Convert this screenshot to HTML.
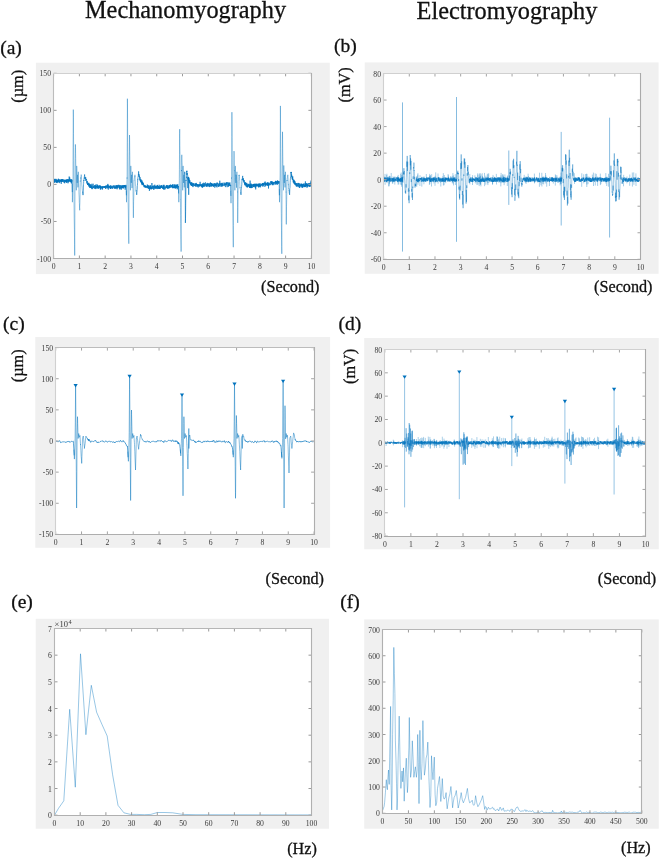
<!DOCTYPE html>
<html><head><meta charset="utf-8"><style>
html,body{margin:0;padding:0;background:#fff;}
svg{display:block;filter:blur(0.30px);}
</style></head><body>
<svg width="660" height="859" viewBox="0 0 660 859">
<rect width="660" height="859" fill="#fff"/>
<rect x="35.9" y="62.7" width="293.9" height="211.4" fill="#f0f0f0"/>
<rect x="53.6" y="73.3" width="257.8" height="185.2" fill="#fff"/>
<rect x="364.7" y="62.4" width="293.9" height="211.4" fill="#f0f0f0"/>
<rect x="383.6" y="73.5" width="256.9" height="185.8" fill="#fff"/>
<rect x="35.3" y="337.0" width="294.8" height="210.8" fill="#f0f0f0"/>
<rect x="55.7" y="347.6" width="258.4" height="186.8" fill="#fff"/>
<rect x="364.2" y="338.0" width="294.6" height="211.3" fill="#f0f0f0"/>
<rect x="384.8" y="349.5" width="260.7" height="186.6" fill="#fff"/>
<rect x="35.7" y="618.8" width="293.3" height="209.9" fill="#f0f0f0"/>
<rect x="54.5" y="628.5" width="257.0" height="186.7" fill="#fff"/>
<rect x="364.2" y="619.4" width="294.6" height="209.3" fill="#f0f0f0"/>
<rect x="382.5" y="629.5" width="259.3" height="183.8" fill="#fff"/>
<polyline points="53.9,180.5 54.0,178.9 54.1,179.6 54.2,182.3 54.3,180.9 54.4,178.9 54.6,182.8 54.7,179.2 54.8,180.0 54.9,180.4 55.0,181.6 55.1,181.9 55.2,181.8 55.3,181.3 55.4,180.7 55.5,180.5 55.7,178.9 55.8,179.9 55.9,181.9 56.0,178.9 56.1,182.7 56.2,181.9 56.3,179.9 56.4,182.3 56.5,182.7 56.6,180.8 56.8,181.0 56.9,179.5 57.0,180.6 57.1,183.1 57.2,180.3 57.3,181.7 57.4,182.2 57.5,182.0 57.6,180.1 57.7,182.0 57.9,181.1 58.0,182.3 58.1,179.5 58.2,182.4 58.3,182.0 58.4,178.7 58.5,180.9 58.6,179.7 58.7,179.7 58.8,179.4 59.0,182.1 59.1,180.9 59.2,179.8 59.3,179.3 59.4,181.1 59.5,180.5 59.6,183.1 59.7,181.8 59.8,181.3 59.9,182.0 60.1,179.8 60.2,181.8 60.3,179.7 60.4,180.7 60.5,181.1 60.6,179.9 60.7,179.7 60.8,180.9 60.9,180.7 61.0,182.1 61.2,183.4 61.3,183.9 61.4,179.4 61.5,182.0 61.6,179.8 61.7,181.3 61.8,179.2 61.9,180.2 62.0,182.0 62.1,179.0 62.3,179.7 62.4,179.6 62.5,181.3 62.6,181.5 62.7,181.5 62.8,179.0 62.9,181.2 63.0,182.0 63.1,179.6 63.2,180.3 63.4,180.7 63.5,181.1 63.6,181.4 63.7,181.5 63.8,182.5 63.9,179.7 64.0,181.1 64.1,180.9 64.2,181.2 64.3,180.1 64.5,182.6 64.6,181.6 64.7,183.3 64.8,181.9 64.9,179.7 65.0,180.1 65.1,181.0 65.2,181.6 65.3,180.0 65.4,181.8 65.6,181.0 65.7,180.8 65.8,181.2 65.9,181.0 66.0,179.8 66.1,179.6 66.2,182.1 66.3,179.7 66.4,182.8 66.5,179.8 66.7,179.8 66.8,182.5 66.9,181.8 67.0,179.7 67.1,180.4 67.2,180.6 67.3,180.2 67.4,180.7 67.5,179.1 67.6,182.1 67.8,182.0 67.9,181.3 68.0,183.3 68.1,181.5 68.2,179.7 68.3,180.1 68.4,181.7 68.5,182.2 68.6,179.4 68.7,181.2 68.9,179.5 69.0,181.0 69.1,181.6 69.2,176.5 69.3,179.8 69.4,179.9 69.5,181.0 69.6,179.5 69.7,177.4 69.8,179.0 70.0,181.9 70.1,180.8 70.2,181.0 70.3,179.3 70.4,181.9 70.5,179.8 70.6,180.3 70.7,180.6 70.8,181.5 70.9,179.6 71.1,182.6 71.2,181.4 71.3,182.2 71.4,183.5 71.5,181.8 71.6,179.2 71.7,179.8 71.8,181.8 71.9,179.9 72.0,181.7 72.2,183.8 72.3,192.2" fill="none" stroke="#0072BD" stroke-width="0.65" stroke-linejoin="round" />
<polyline points="72.2,183.8 72.3,192.2 72.4,201.1 72.4,202.2 72.5,197.5 72.6,192.7 72.7,188.8 72.8,183.3 72.9,179.1 73.0,178.5 73.0,161.2 73.1,139.9 73.3,117.6 73.3,109.6 73.4,117.9 73.5,133.6 73.6,147.8 73.7,160.4 73.8,176.8 73.9,187.7 74.0,199.2 74.0,201.9 74.1,210.0 74.2,218.1 74.4,229.2 74.5,237.8 74.6,244.4 74.7,254.9 74.7,255.5 74.8,234.5 74.9,211.0 75.0,187.3 75.1,171.1 75.1,167.5 75.2,158.6 75.3,149.1 75.4,144.4 75.5,147.6 75.6,153.3 75.7,158.5 75.8,165.1 75.9,169.8 75.9,171.1 76.0,177.0 76.1,181.3 76.2,185.8 76.3,190.3 76.3,187.0 76.4,181.0 76.6,175.1 76.7,168.2 76.7,165.9 76.8,168.7 76.9,172.2 77.0,176.3 77.1,180.9 77.2,182.9 77.2,182.9 77.3,179.1 77.4,175.9 77.5,174.8 77.5,177.3 77.7,180.1 77.8,184.4 77.9,187.1 77.9,187.4 78.0,181.5 78.1,179.6 78.2,175.6 78.3,171.8 78.3,172.9 78.4,177.0 78.5,181.1 78.6,183.5 78.8,187.3 78.9,189.8 78.9,191.8 79.0,194.8 79.1,195.9 79.2,197.9 79.3,202.7 79.4,203.4 79.5,207.5 79.6,208.6 79.7,210.3 79.7,206.9 79.9,202.6 80.0,197.2 80.1,192.5 80.2,186.6 80.3,180.7 80.3,181.5 80.4,180.8 80.5,179.9 80.6,178.7 80.7,177.6 80.8,178.5 81.0,176.5 81.1,176.2 81.2,174.6 81.2,174.8 81.3,175.4 81.4,177.5 81.5,178.5 81.6,181.7 81.7,182.9 81.8,184.9 81.9,185.9 82.1,187.5 82.1,188.1 82.2,188.8 82.3,190.3 82.4,190.3 82.5,191.4 82.6,191.5" fill="none" stroke="#0072BD" stroke-width="0.55" stroke-linejoin="round" stroke-opacity="0.72"/>
<polyline points="82.5,191.4 82.6,191.5 82.7,192.9 82.8,192.7 82.9,194.2 83.0,194.8 83.0,195.1 83.2,191.9 83.3,190.8 83.4,187.1 83.5,184.7 83.6,183.7 83.7,181.3 83.8,180.0 83.8,180.8 83.9,180.7 84.0,178.8 84.1,177.9 84.3,178.1 84.4,176.3 84.5,175.4 84.5,175.5 84.6,174.5 84.7,176.1 84.8,176.5 84.9,178.8 85.0,177.4 85.1,178.1 85.2,178.8 85.4,178.9 85.5,178.2 85.6,177.7 85.7,177.1 85.8,181.0 85.9,180.6 86.0,179.4 86.1,180.0 86.2,179.4 86.3,178.9 86.5,180.1 86.6,179.9 86.7,180.7 86.8,182.6 86.9,181.3 87.0,183.6 87.1,182.2 87.2,182.2 87.3,181.2 87.4,183.9 87.6,184.9 87.7,183.4 87.8,185.0 87.9,183.0 88.0,183.8 88.1,184.3 88.2,183.6 88.3,183.8 88.4,185.4 88.5,182.9 88.7,182.7 88.8,185.1 88.9,186.6 89.0,184.0 89.1,183.3 89.2,186.3 89.3,185.2 89.4,184.3 89.5,184.2 89.6,187.7 89.8,187.3 89.9,184.2 90.0,187.7 90.1,187.2 90.2,186.6 90.3,186.5 90.4,185.2 90.5,187.4 90.6,184.4 90.7,188.0 90.9,186.2 91.0,188.0 91.1,186.5 91.2,187.4 91.3,187.0 91.4,187.8 91.5,185.5 91.6,187.3 91.7,189.1 91.8,183.8 92.0,185.2 92.1,185.0 92.2,187.5 92.3,186.5 92.4,187.8 92.5,187.8 92.6,189.1 92.7,187.6 92.8,187.7 92.9,187.5 93.1,183.7 93.2,187.0 93.3,188.1 93.4,186.7 93.5,187.3 93.6,186.7 93.7,187.7 93.8,186.9 93.9,186.2 94.0,186.8 94.2,187.2 94.3,186.6 94.4,185.5 94.5,187.4 94.6,188.8 94.7,188.7 94.8,185.0 94.9,185.1 95.0,187.9 95.1,186.2 95.3,188.1 95.4,187.7 95.5,187.6 95.6,185.4 95.7,189.1 95.8,187.6 95.9,185.5 96.0,188.5 96.1,184.2 96.2,187.8 96.4,186.1 96.5,186.8 96.6,186.3 96.7,186.8 96.8,186.8 96.9,186.0 97.0,187.0 97.1,187.0 97.2,188.6 97.3,188.3 97.5,184.6 97.6,188.0 97.7,185.2 97.8,187.0 97.9,187.6 98.0,186.3 98.1,187.5 98.2,186.7 98.3,188.8 98.4,186.0 98.6,186.8 98.7,186.9 98.8,188.4 98.9,185.8 99.0,186.4 99.1,186.9 99.2,185.1 99.3,187.9 99.4,187.4 99.5,186.7 99.7,186.3 99.8,187.6 99.9,187.0 100.0,187.4 100.1,187.3 100.2,185.3 100.3,189.3 100.4,186.1 100.5,189.5 100.6,186.1 100.8,187.2 100.9,187.2 101.0,186.9 101.1,186.6 101.2,186.7 101.3,188.6 101.4,186.8 101.5,186.7 101.6,186.3 101.7,188.1 101.9,187.1 102.0,186.8 102.1,187.4 102.2,189.5 102.3,189.7 102.4,187.9 102.5,188.4 102.6,186.2 102.7,188.5 102.8,186.6 103.0,186.3 103.1,186.6 103.2,186.3 103.3,188.0 103.4,187.2 103.5,186.9 103.6,186.6 103.7,186.9 103.8,186.7 103.9,187.5 104.1,186.7 104.2,187.2 104.3,186.0 104.4,187.4 104.5,187.6 104.6,187.0 104.7,187.2 104.8,188.0 104.9,186.1 105.0,187.6 105.2,186.3 105.3,186.4 105.4,187.2 105.5,186.2 105.6,189.0 105.7,187.2 105.8,185.8 105.9,187.1 106.0,186.8 106.1,185.5 106.3,186.6 106.4,186.2 106.5,186.7 106.6,187.5 106.7,188.1 106.8,186.8 106.9,187.2 107.0,185.2 107.1,187.6 107.2,188.5 107.4,187.4 107.5,186.7 107.6,184.7 107.7,185.8 107.8,187.9 107.9,183.9 108.0,185.2 108.1,186.5 108.2,186.7 108.3,189.6 108.5,185.4 108.6,186.9 108.7,187.5 108.8,188.0 108.9,187.4 109.0,186.4 109.1,186.0 109.2,186.5 109.3,186.1 109.4,187.4 109.6,187.0 109.7,186.3 109.8,187.6 109.9,188.0 110.0,186.2 110.1,185.5 110.2,188.9 110.3,186.4 110.4,185.4 110.5,186.4 110.7,189.0 110.8,187.4 110.9,188.5 111.0,186.8 111.1,187.4 111.2,186.1 111.3,187.9 111.4,187.3 111.5,186.7 111.6,186.8 111.8,188.0 111.9,185.5 112.0,186.5 112.1,187.2 112.2,188.2 112.3,188.9 112.4,187.4 112.5,186.6 112.6,186.4 112.7,188.3 112.9,187.8 113.0,187.7 113.1,186.2 113.2,187.5 113.3,185.8 113.4,186.3 113.5,186.5 113.6,185.4 113.7,186.2 113.8,187.0 114.0,187.6 114.1,187.1 114.2,187.8 114.3,188.7 114.4,186.7 114.5,185.7 114.6,188.1 114.7,187.8 114.8,188.2 114.9,187.8 115.1,185.4 115.2,188.2 115.3,187.9 115.4,188.2 115.5,187.1 115.6,188.4 115.7,186.8 115.8,188.4 115.9,186.9 116.0,185.6 116.2,188.0 116.3,185.7 116.4,186.7 116.5,187.2 116.6,185.4 116.7,188.5 116.8,185.5 116.9,186.3 117.0,185.6 117.1,189.3 117.3,185.9 117.4,186.8 117.5,186.2 117.6,187.9 117.7,185.0 117.8,185.1 117.9,187.4 118.0,187.3 118.1,188.1 118.2,185.8 118.4,184.9 118.5,184.9 118.6,186.6 118.7,186.2 118.8,186.1 118.9,186.4 119.0,184.9 119.1,186.6 119.2,187.7 119.3,186.4 119.5,189.3 119.6,186.2 119.7,185.3 119.8,188.2 119.9,185.8 120.0,185.5 120.1,188.1 120.2,187.2 120.3,189.3 120.4,187.3 120.6,186.8 120.7,186.5 120.8,185.2 120.9,187.4 121.0,185.7 121.1,185.7 121.2,185.9 121.3,187.2 121.4,189.6 121.5,186.2 121.7,187.8 121.8,188.0 121.9,186.2 122.0,185.5 122.1,187.6 122.2,188.2 122.3,185.1 122.4,187.9 122.5,186.2 122.6,188.0 122.8,188.2 122.9,187.7 123.0,186.9 123.1,188.0 123.2,186.5 123.3,185.0 123.4,188.5 123.5,187.7 123.6,186.2 123.7,186.0 123.9,187.0 124.0,185.3 124.1,186.3 124.2,185.2 124.3,187.5 124.4,185.5 124.5,186.2 124.6,185.1 124.7,186.7 124.8,186.2 125.0,186.2 125.1,186.5 125.2,189.7 125.3,185.0 125.4,185.3 125.5,187.9 125.6,185.9 125.7,187.7 125.8,187.6 125.9,184.9 126.1,187.4 126.2,187.7 126.3,190.4 126.4,195.4" fill="none" stroke="#0072BD" stroke-width="0.65" stroke-linejoin="round" />
<polyline points="126.3,190.4 126.4,195.4 126.5,201.6 126.5,202.2 126.6,197.7 126.7,192.6 126.8,187.6 126.9,183.9 127.0,177.6 127.1,178.5 127.2,152.8 127.3,128.5 127.4,103.7 127.4,98.7 127.5,109.0 127.6,126.9 127.7,142.6 127.8,157.8 127.9,174.2 128.0,190.5 128.1,199.2 128.1,201.9 128.3,210.0 128.4,215.9 128.5,224.4 128.6,230.1 128.7,237.0 128.8,243.7 128.8,242.9 128.9,220.6 129.0,202.7 129.1,181.3 129.2,171.1 129.2,165.4 129.4,151.6 129.5,139.1 129.5,135.0 129.6,139.1 129.7,148.0 129.8,155.4 129.9,164.0 130.0,171.1 130.0,171.6 130.1,177.2 130.2,182.8 130.3,187.5 130.4,190.3 130.5,186.6 130.6,180.0 130.7,174.2 130.8,166.7 130.8,165.9 130.9,168.9 131.0,173.4 131.1,176.6 131.2,180.6 131.3,182.9 131.3,182.5 131.4,179.5 131.6,176.4 131.6,174.8 131.7,177.2 131.8,180.6 131.9,183.1 132.0,188.1 132.0,187.4 132.1,184.5 132.2,178.3 132.3,174.8 132.4,171.8 132.4,173.2 132.5,175.1 132.7,179.5 132.8,183.7 132.9,187.2 133.0,191.4 133.0,191.8 133.1,197.6 133.2,205.8 133.3,213.0 133.4,217.8 133.4,216.2 133.5,208.2 133.6,201.5 133.8,196.4 133.9,188.5 134.0,182.8 134.0,181.5 134.1,180.0 134.2,180.2 134.3,178.5 134.4,178.4 134.5,177.7 134.6,176.7 134.7,175.8 134.9,175.5 134.9,174.8 135.0,176.7 135.1,176.3 135.2,179.3 135.3,181.9 135.4,183.9 135.5,185.9 135.6,186.0 135.7,186.3 135.8,188.1 135.8,189.6 136.0,189.5 136.1,191.4 136.2,190.2 136.3,191.5 136.4,192.3 136.5,192.4" fill="none" stroke="#0072BD" stroke-width="0.55" stroke-linejoin="round" stroke-opacity="0.72"/>
<polyline points="136.4,192.3 136.5,192.4 136.6,193.0 136.7,194.8 136.7,193.7 136.8,193.3 136.9,192.3 137.1,190.6 137.2,189.6 137.3,185.7 137.4,185.6 137.5,183.9 137.6,182.4 137.7,179.6 137.8,180.0 137.8,180.0 137.9,177.8 138.0,177.4 138.2,176.6 138.3,176.8 138.4,173.8 138.5,173.9 138.5,173.3 138.6,171.4 138.7,172.5 138.8,175.4 138.9,174.1 139.0,176.3 139.1,176.9 139.3,176.5 139.4,176.5 139.5,175.6 139.6,178.4 139.7,178.5 139.8,178.9 139.9,180.3 140.0,177.1 140.1,178.9 140.2,181.2 140.4,181.3 140.5,181.8 140.6,179.8 140.7,180.9 140.8,179.3 140.9,182.0 141.0,179.9 141.1,179.8 141.2,183.0 141.3,181.6 141.5,182.7 141.6,183.5 141.7,181.9 141.8,182.1 141.9,180.3 142.0,185.1 142.1,181.4 142.2,184.0 142.3,182.3 142.4,183.5 142.6,182.1 142.7,185.1 142.8,184.1 142.9,182.7 143.0,183.4 143.1,184.7 143.2,182.8 143.3,184.9 143.4,185.0 143.5,183.6 143.7,185.3 143.8,186.0 143.9,186.4 144.0,185.1 144.1,186.5 144.2,187.2 144.3,184.9 144.4,185.5 144.5,185.2 144.6,185.0 144.8,187.3 144.9,186.1 145.0,186.9 145.1,187.2 145.2,185.8 145.3,187.1 145.4,186.7 145.5,185.5 145.6,187.7 145.7,187.9 145.9,185.9 146.0,186.1 146.1,186.8 146.2,185.9 146.3,187.3 146.4,187.4 146.5,186.5 146.6,187.3 146.7,187.4 146.8,187.0 147.0,186.9 147.1,188.1 147.2,185.9 147.3,184.5 147.4,184.7 147.5,187.6 147.6,187.7 147.7,188.1 147.8,185.3 147.9,187.6 148.1,186.2 148.2,185.2 148.3,185.2 148.4,188.9 148.5,187.6 148.6,187.2 148.7,186.0 148.8,187.5 148.9,187.1 149.0,188.9 149.2,188.5 149.3,186.4 149.4,190.9 149.5,188.5 149.6,187.9 149.7,188.7 149.8,189.4 149.9,185.4 150.0,187.0 150.1,188.5 150.3,185.6 150.4,189.2 150.5,188.3 150.6,185.6 150.7,186.1 150.8,186.5 150.9,188.7 151.0,187.2 151.1,188.7 151.2,188.0 151.4,189.1 151.5,189.3 151.6,186.8 151.7,189.1 151.8,188.1 151.9,183.0 152.0,187.1 152.1,187.5 152.2,188.4 152.3,186.1 152.5,186.5 152.6,186.8 152.7,186.4 152.8,189.0 152.9,187.9 153.0,185.8 153.1,185.6 153.2,186.2 153.3,187.0 153.4,187.8 153.6,188.5 153.7,185.8 153.8,190.0 153.9,187.8 154.0,187.4 154.1,186.5 154.2,185.7 154.3,187.1 154.4,188.2 154.5,188.7 154.7,187.4 154.8,184.7 154.9,187.9 155.0,185.7 155.1,187.0 155.2,187.5 155.3,187.0 155.4,188.9 155.5,186.6 155.6,188.1 155.8,186.4 155.9,187.5 156.0,186.0 156.1,186.2 156.2,187.8 156.3,187.9 156.4,186.4 156.5,187.1 156.6,188.4 156.7,188.7 156.9,185.7 157.0,186.3 157.1,189.1 157.2,185.2 157.3,187.6 157.4,187.4 157.5,185.0 157.6,184.9 157.7,188.4 157.8,188.9 158.0,187.7 158.1,186.2 158.2,186.7 158.3,187.0 158.4,186.7 158.5,187.9 158.6,186.0 158.7,188.7 158.8,186.7 158.9,188.8 159.1,187.4 159.2,184.8 159.3,186.4 159.4,188.9 159.5,186.8 159.6,186.6 159.7,188.0 159.8,187.7 159.9,189.0 160.0,186.5 160.2,187.8 160.3,187.4 160.4,188.4 160.5,186.3 160.6,188.2 160.7,185.5 160.8,185.4 160.9,186.4 161.0,187.3 161.1,185.9 161.3,187.2 161.4,185.2 161.5,187.6 161.6,186.9 161.7,187.8 161.8,186.3 161.9,185.3 162.0,187.9 162.1,186.4 162.2,186.5 162.4,187.6 162.5,186.9 162.6,188.5 162.7,187.3 162.8,186.7 162.9,189.0 163.0,186.8 163.1,185.4 163.2,185.6 163.3,184.9 163.5,185.1 163.6,189.4 163.7,185.6 163.8,189.4 163.9,185.8 164.0,184.8 164.1,186.2 164.2,186.5 164.3,188.1 164.4,187.6 164.6,187.9 164.7,188.7 164.8,189.7 164.9,185.7 165.0,185.6 165.1,188.3 165.2,187.9 165.3,188.1 165.4,188.5 165.5,188.0 165.7,186.8 165.8,187.3 165.9,186.8 166.0,187.1 166.1,186.9 166.2,187.5 166.3,187.1 166.4,186.9 166.5,185.3 166.6,187.8 166.8,185.5 166.9,187.6 167.0,185.3 167.1,188.3 167.2,186.6 167.3,185.4 167.4,185.6 167.5,188.2 167.6,188.0 167.7,187.0 167.9,188.9 168.0,187.8 168.1,185.4 168.2,188.4 168.3,188.2 168.4,188.2 168.5,188.1 168.6,186.5 168.7,187.1 168.8,186.6 169.0,188.1 169.1,185.5 169.2,185.0 169.3,186.4 169.4,188.2 169.5,185.5 169.6,186.6 169.7,186.9 169.8,184.9 169.9,187.5 170.1,186.6 170.2,187.9 170.3,185.3 170.4,186.0 170.5,185.7 170.6,184.5 170.7,184.7 170.8,186.3 170.9,186.7 171.0,186.8 171.2,185.3 171.3,187.2 171.4,185.6 171.5,185.5 171.6,186.3 171.7,185.6 171.8,186.7 171.9,186.6 172.0,187.5 172.1,184.9 172.3,187.6 172.4,185.1 172.5,185.9 172.6,185.1 172.7,184.7 172.8,188.3 172.9,184.1 173.0,185.9 173.1,188.0 173.2,186.6 173.4,188.1 173.5,186.7 173.6,187.3 173.7,187.3 173.8,186.9 173.9,186.0 174.0,184.8 174.1,184.8 174.2,186.6 174.3,186.6 174.5,188.0 174.6,187.0 174.7,184.6 174.8,187.8 174.9,184.6 175.0,188.5 175.1,187.0 175.2,186.0 175.3,186.6 175.4,185.8 175.6,188.4 175.7,188.5 175.8,184.7 175.9,187.1 176.0,187.6 176.1,186.5 176.2,187.9 176.3,186.3 176.4,185.1 176.5,185.1 176.7,187.5 176.8,186.1 176.9,184.5 177.0,186.6 177.1,185.2 177.2,189.3 177.3,184.8 177.4,185.9 177.5,185.1 177.6,185.6 177.8,184.3 177.9,188.4 178.0,185.9 178.1,187.4 178.2,187.3 178.3,186.0 178.4,187.0 178.5,188.2 178.6,193.5" fill="none" stroke="#0072BD" stroke-width="0.65" stroke-linejoin="round" />
<polyline points="178.5,188.2 178.6,193.5 178.7,199.5 178.8,202.2 178.9,198.8 179.0,195.3 179.1,190.0 179.2,185.2 179.3,180.6 179.3,178.5 179.4,169.6 179.5,154.7 179.6,138.2 179.7,129.2 179.7,133.7 179.8,145.2 180.0,155.2 180.1,165.4 180.2,177.6 180.3,188.6 180.4,199.4 180.4,199.2 180.5,207.3 180.6,215.8 180.7,223.7 180.8,233.3 180.9,239.3 181.1,248.2 181.1,251.6 181.2,238.1 181.3,214.4 181.4,192.9 181.5,170.0 181.5,171.1 181.6,165.9 181.7,158.0 181.8,154.8 181.8,155.7 181.9,160.7 182.0,162.4 182.2,166.7 182.3,170.8 182.3,171.1 182.4,175.1 182.5,181.5 182.6,185.1 182.7,190.3 182.7,189.9 182.8,183.2 182.9,175.3 183.0,169.5 183.1,165.9 183.1,168.0 183.3,172.0 183.4,175.1 183.5,178.1 183.6,183.0 183.6,182.9 183.7,180.9 183.8,176.6 183.9,174.8 183.9,175.3 184.0,178.9 184.1,180.9 184.2,186.6 184.3,187.4 184.4,184.9 184.5,182.0 184.6,176.7 184.7,171.8 184.7,171.8 184.8,174.4" fill="none" stroke="#0072BD" stroke-width="0.55" stroke-linejoin="round" stroke-opacity="0.72"/>
<polyline points="184.7,171.8 184.8,174.4 184.9,179.7 185.0,181.9 185.1,185.6 185.2,189.9 185.3,191.8 185.3,205.7 185.4,222.9 185.5,218.8 185.6,211.8 185.7,203.3 185.8,197.2 185.9,187.3 186.0,181.5 186.0,180.0 186.0,180.7 186.1,180.8 186.2,179.3 186.3,178.5 186.4,176.8 186.6,177.7 186.7,177.4 186.7,171.1 186.8,172.0 186.9,170.7 186.9,174.8 187.0,173.5 187.1,174.4 187.2,173.6 187.3,173.3 187.4,174.5 187.5,175.0 187.7,175.1 187.8,177.8 187.8,188.1 187.9,177.5 188.0,178.8 188.1,177.4 188.2,179.8 188.3,179.6 188.4,176.9 188.5,179.8 188.6,179.7 188.7,194.8 188.8,177.4 188.9,181.0 189.0,178.4 189.1,179.3 189.2,182.0 189.3,181.9 189.4,182.6 189.5,180.5 189.6,182.8 189.7,183.3 189.9,180.3 190.0,182.7 190.1,182.3 190.2,182.5 190.3,184.0 190.4,184.2 190.5,182.7 190.6,185.2 190.7,183.8 190.8,182.5 191.0,182.9 191.1,183.5 191.2,185.3 191.3,184.5 191.4,182.3 191.5,185.8 191.6,184.8 191.7,185.9 191.8,182.5 191.9,185.6 192.1,184.8 192.2,184.5 192.3,183.3 192.4,182.9 192.5,183.6 192.6,185.5 192.7,186.4 192.8,183.8 192.9,183.4 193.0,187.1 193.2,183.9 193.3,185.4 193.4,184.9 193.5,184.1 193.6,184.5 193.7,183.2 193.8,184.8 193.9,185.6 194.0,183.5 194.1,185.0 194.3,185.0 194.4,185.2 194.5,185.1 194.6,186.0 194.7,186.0 194.8,186.1 194.9,185.1 195.0,185.7 195.1,183.8 195.2,184.2 195.4,185.9 195.5,185.2 195.6,183.2 195.7,186.6 195.8,185.1 195.9,184.4 196.0,184.8 196.1,184.0 196.2,186.6 196.3,182.9 196.5,184.7 196.6,183.9 196.7,184.7 196.8,184.0 196.9,184.5 197.0,184.5 197.1,186.4 197.2,185.5 197.3,184.4 197.4,186.2 197.6,186.6 197.7,184.1 197.8,184.8 197.9,184.4 198.0,186.1 198.1,184.8 198.2,187.5 198.3,184.9 198.4,185.3 198.5,184.9 198.7,186.1 198.8,186.3 198.9,184.4 199.0,185.9 199.1,184.6 199.2,186.2 199.3,186.4 199.4,186.2 199.5,185.0 199.6,184.4 199.8,184.0 199.9,186.5 200.0,184.5 200.1,181.8 200.2,184.9 200.3,184.8 200.4,185.5 200.5,184.8 200.6,185.7 200.7,185.0 200.9,184.3 201.0,184.7 201.1,185.8 201.2,184.4 201.3,186.4 201.4,184.5 201.5,185.4 201.6,184.8 201.7,187.3 201.8,185.0 202.0,186.6 202.1,185.2 202.2,186.3 202.3,184.2 202.4,183.5 202.5,185.5 202.6,187.9 202.7,184.4 202.8,186.7 202.9,183.7 203.1,186.7 203.2,186.3 203.3,185.4 203.4,186.3 203.5,185.2 203.6,186.3 203.7,184.8 203.8,182.7 203.9,186.1 204.0,183.2 204.2,186.5 204.3,185.2 204.4,185.0 204.5,185.2 204.6,184.6 204.7,183.5 204.8,186.6 204.9,185.2 205.0,184.1 205.1,184.0 205.3,184.5 205.4,183.3 205.5,182.4 205.6,183.4 205.7,184.3 205.8,186.2 205.9,185.8 206.0,184.8 206.1,183.9 206.2,185.9 206.4,185.1 206.5,186.8 206.6,184.4 206.7,184.1 206.8,183.6 206.9,186.3 207.0,184.2 207.1,185.0 207.2,185.5 207.3,182.9 207.5,184.8 207.6,183.9 207.7,186.7 207.8,186.6 207.9,184.7 208.0,185.8 208.1,183.7 208.2,184.2 208.3,183.6 208.4,183.7 208.6,184.1 208.7,186.5 208.8,184.3 208.9,183.6 209.0,184.5 209.1,183.8 209.2,183.7 209.3,185.3 209.4,183.6 209.5,187.1 209.7,185.2 209.8,186.0 209.9,186.5 210.0,184.7 210.1,184.8 210.2,184.6 210.3,182.6 210.4,184.1 210.5,184.2 210.6,182.7 210.8,186.0 210.9,184.9 211.0,186.9 211.1,184.9 211.2,183.7 211.3,186.2 211.4,184.6 211.5,183.1 211.6,185.3 211.7,183.4 211.9,185.8 212.0,185.6 212.1,184.3 212.2,186.4 212.3,185.6 212.4,185.8 212.5,184.1 212.6,185.3 212.7,185.7 212.8,183.7 213.0,185.9 213.1,183.5 213.2,184.0 213.3,184.3 213.4,185.4 213.5,184.9 213.6,187.0 213.7,186.0 213.8,184.9 213.9,186.0 214.1,184.0 214.2,184.4 214.3,183.2 214.4,183.8 214.5,185.6 214.6,184.8 214.7,186.5 214.8,187.7 214.9,183.1 215.0,185.8 215.2,185.8 215.3,186.2 215.4,184.8 215.5,184.2 215.6,186.1 215.7,183.6 215.8,186.2 215.9,183.9 216.0,185.1 216.1,184.8 216.3,185.4 216.4,183.9 216.5,182.8 216.6,183.5 216.7,186.6 216.8,185.2 216.9,185.6 217.0,187.4 217.1,186.2 217.2,185.7 217.4,182.6 217.5,184.0 217.6,183.5 217.7,184.3 217.8,185.1 217.9,185.3 218.0,185.2 218.1,185.8 218.2,184.8 218.3,183.9 218.5,187.0 218.6,185.3 218.7,185.1 218.8,183.9 218.9,184.0 219.0,183.3 219.1,185.7 219.2,186.1 219.3,185.5 219.4,186.1 219.6,183.0 219.7,182.7 219.8,180.7 219.9,186.5 220.0,186.3 220.1,182.9 220.2,183.1 220.3,184.3 220.4,185.2 220.5,184.9 220.7,183.9 220.8,184.0 220.9,184.8 221.0,186.0 221.1,186.7 221.2,185.2 221.3,182.9 221.4,184.3 221.5,183.6 221.6,186.2 221.8,184.9 221.9,183.6 222.0,184.6 222.1,186.6 222.2,185.5 222.3,184.0 222.4,183.6 222.5,184.3 222.6,186.1 222.7,182.8 222.9,184.5 223.0,184.0 223.1,184.5 223.2,185.2 223.3,185.5 223.4,185.8 223.5,185.9 223.6,185.7 223.7,185.7 223.8,185.3 224.0,184.6 224.1,182.5 224.2,185.8 224.3,185.7 224.4,183.4 224.5,184.7 224.6,184.9 224.7,185.2 224.8,184.8 224.9,185.2 225.1,183.7 225.2,184.1 225.3,185.7 225.4,187.1 225.5,183.7 225.6,184.8 225.7,184.1 225.8,183.1 225.9,182.9 226.0,182.6 226.2,184.8 226.3,182.7 226.4,184.5 226.5,185.4 226.6,184.4 226.7,182.2 226.8,183.9 226.9,183.3 227.0,185.6 227.1,187.2 227.3,185.0 227.4,184.2 227.5,183.3 227.6,182.5 227.7,182.2 227.8,183.8 227.9,184.0 228.0,185.2 228.1,185.1 228.2,186.6 228.4,182.5 228.5,185.4 228.6,186.5 228.7,184.9 228.8,184.3 228.9,183.6 229.0,185.7 229.1,185.7 229.2,183.2 229.3,183.5 229.5,184.0 229.6,183.4 229.7,186.0 229.8,182.3 229.9,183.9 230.0,184.5 230.1,185.3 230.2,185.2 230.3,184.8 230.4,185.8 230.6,185.9 230.7,185.2 230.8,190.5 230.9,195.9" fill="none" stroke="#0072BD" stroke-width="0.65" stroke-linejoin="round" />
<polyline points="230.8,190.5 230.9,195.9 231.0,203.2 231.0,202.2 231.1,197.5 231.2,192.4 231.3,188.3 231.4,183.9 231.5,177.6 231.6,178.5 231.7,157.8 231.8,136.6 231.9,115.3 231.9,112.2 232.0,124.3 232.1,137.7 232.2,149.0 232.3,164.5 232.4,178.8 232.5,191.9 232.6,199.2 232.6,203.0 232.8,211.0 232.9,218.0 233.0,225.3 233.1,232.8 233.2,240.0 233.3,247.2 233.3,246.5 233.4,225.4 233.5,202.9 233.6,182.8 233.7,171.1 233.7,166.9 233.9,160.2 234.0,154.0 234.0,151.1 234.1,153.9 234.2,159.4 234.3,162.9 234.4,166.6 234.5,171.1 234.5,170.6 234.6,177.4 234.7,182.1 234.8,187.7 234.9,190.3 235.0,186.1 235.1,181.7 235.2,173.5 235.3,166.3 235.3,165.9 235.4,169.0 235.5,173.5 235.6,176.2 235.7,179.8 235.8,182.9 235.8,181.8 235.9,179.0 236.1,176.1 236.1,174.8 236.2,176.9 236.3,179.6 236.4,182.9 236.5,187.7 236.5,187.4 236.6,183.7 236.7,179.3 236.8,173.8 236.9,171.8 236.9,173.0 237.0,176.6 237.2,180.1 237.3,183.9 237.4,187.9 237.5,192.2 237.5,191.8 237.6,207.8 237.7,222.9 237.7,222.1 237.8,214.3 237.9,207.3 238.0,199.7 238.1,190.9 238.3,184.5 238.3,181.5 238.4,180.8 238.5,180.3 238.6,179.9 238.7,179.5 238.8,178.0 238.9,177.4 239.0,175.4 239.1,176.0 239.2,174.8 239.2,175.8 239.4,176.7 239.5,178.8 239.6,180.1 239.7,181.5 239.8,184.8 239.9,185.6 240.0,187.6 240.1,188.1 240.1,187.4 240.2,189.2 240.3,189.6 240.5,189.6 240.6,191.8 240.7,192.3 240.8,192.9" fill="none" stroke="#0072BD" stroke-width="0.55" stroke-linejoin="round" stroke-opacity="0.72"/>
<polyline points="240.7,192.3 240.8,192.9 240.9,194.2 241.0,194.8 241.0,193.8 241.1,192.4 241.2,190.7 241.3,189.7 241.4,188.3 241.6,186.7 241.7,185.1 241.8,184.3 241.9,181.3 242.0,179.4 242.0,180.0 242.1,179.5 242.2,179.4 242.3,178.5 242.4,177.9 242.5,177.4 242.7,175.9 242.7,177.0 242.8,179.9 242.9,178.8 243.0,179.1 243.1,179.4 243.2,180.5 243.3,178.2 243.4,181.5 243.5,181.3 243.6,180.3 243.8,181.3 243.9,182.6 244.0,182.4 244.1,181.6 244.2,180.9 244.3,180.1 244.4,180.6 244.5,184.4 244.6,182.7 244.7,183.3 244.9,184.6 245.0,182.1 245.1,185.4 245.2,184.7 245.3,183.1 245.4,183.6 245.5,185.0 245.6,182.3 245.7,184.6 245.8,184.0 246.0,185.9 246.1,183.5 246.2,186.7 246.3,185.0 246.4,183.3 246.5,183.5 246.6,183.8 246.7,182.9 246.8,186.5 246.9,187.1 247.1,185.4 247.2,187.5 247.3,183.7 247.4,186.5 247.5,185.8 247.6,186.4 247.7,187.2 247.8,185.6 247.9,186.9 248.0,184.4 248.2,185.3 248.3,186.3 248.4,184.2 248.5,184.6 248.6,186.3 248.7,185.6 248.8,183.8 248.9,184.5 249.0,186.0 249.1,184.7 249.3,184.8 249.4,186.5 249.5,188.0 249.6,184.4 249.7,185.7 249.8,186.7 249.9,185.3 250.0,187.7 250.1,180.6 250.2,187.0 250.4,187.9 250.5,188.1 250.6,186.8 250.7,183.9 250.8,187.9 250.9,185.8 251.0,183.5 251.1,187.7 251.2,186.7 251.3,184.9 251.5,188.1 251.6,184.3 251.7,184.7 251.8,187.1 251.9,184.6 252.0,185.6 252.1,185.2 252.2,186.1 252.3,187.1 252.4,187.5 252.6,187.0 252.7,187.6 252.8,184.2 252.9,184.8 253.0,185.8 253.1,184.6 253.2,185.7 253.3,187.0 253.4,186.3 253.5,183.9 253.7,187.0 253.8,185.5 253.9,184.0 254.0,186.6 254.1,184.1 254.2,186.8 254.3,185.4 254.4,184.7 254.5,185.0 254.6,183.9 254.8,185.5 254.9,183.7 255.0,186.5 255.1,185.3 255.2,186.9 255.3,188.0 255.4,185.2 255.5,185.0 255.6,184.1 255.7,189.4 255.9,183.8 256.0,185.8 256.1,186.3 256.2,183.8 256.3,184.9 256.4,184.4 256.5,186.4 256.6,185.8 256.7,184.4 256.8,186.0 257.0,183.7 257.1,185.3 257.2,185.6 257.3,184.4 257.4,185.4 257.5,184.8 257.6,184.8 257.7,186.3 257.8,185.0 257.9,184.6 258.1,185.5 258.2,186.8 258.3,184.2 258.4,183.5 258.5,186.7 258.6,184.0 258.7,184.7 258.8,187.6 258.9,184.9 259.0,186.2 259.2,184.7 259.3,184.0 259.4,185.1 259.5,186.9 259.6,183.7 259.7,184.7 259.8,184.2 259.9,186.6 260.0,183.1 260.1,184.8 260.3,185.7 260.4,184.8 260.5,185.5 260.6,187.3 260.7,186.0 260.8,185.3 260.9,185.9 261.0,184.4 261.1,184.9 261.2,184.6 261.4,185.2 261.5,184.8 261.6,184.1 261.7,185.6 261.8,184.3 261.9,184.4 262.0,184.3 262.1,183.3 262.2,184.6 262.3,185.2 262.5,183.7 262.6,186.5 262.7,183.0 262.8,184.7 262.9,185.0 263.0,184.1 263.1,183.7 263.2,184.9 263.3,182.9 263.4,186.3 263.6,184.3 263.7,184.2 263.8,183.2 263.9,183.6 264.0,184.2 264.1,184.7 264.2,184.0 264.3,184.4 264.4,183.7 264.5,182.8 264.7,183.5 264.8,182.4 264.9,186.9 265.0,184.1 265.1,181.5 265.2,183.8 265.3,184.6 265.4,184.2 265.5,183.1 265.6,185.9 265.8,184.7 265.9,184.4 266.0,182.7 266.1,185.0 266.2,184.0 266.3,185.3 266.4,184.3 266.5,184.1 266.6,183.6 266.7,183.0 266.9,182.9 267.0,184.5 267.1,183.3 267.2,184.0 267.3,185.8 267.4,183.2 267.5,183.4 267.6,184.9 267.7,182.1 267.8,185.0 268.0,186.0 268.1,182.5 268.2,184.4 268.3,183.9 268.4,183.5 268.5,188.5 268.6,183.4 268.7,183.5 268.8,185.6 268.9,184.3 269.1,183.2 269.2,182.7 269.3,182.8 269.4,183.6 269.5,184.3 269.6,183.5 269.7,185.2 269.8,184.2 269.9,184.8 270.0,184.8 270.2,184.4 270.3,185.1 270.4,182.8 270.5,183.1 270.6,182.9 270.7,181.1 270.8,182.3 270.9,183.3 271.0,182.5 271.1,183.5 271.3,182.1 271.4,184.3 271.5,183.3 271.6,181.0 271.7,182.6 271.8,183.9 271.9,182.3 272.0,183.9 272.1,181.7 272.2,185.1 272.4,184.5 272.5,184.6 272.6,184.9 272.7,181.6 272.8,185.2 272.9,183.7 273.0,183.3 273.1,182.6 273.2,182.5 273.3,184.0 273.5,183.8 273.6,182.0 273.7,184.2 273.8,185.1 273.9,184.0 274.0,183.8 274.1,183.4 274.2,182.3 274.3,182.4 274.4,182.8 274.6,182.3 274.7,182.1 274.8,183.4 274.9,184.1 275.0,183.6 275.1,181.8 275.2,182.4 275.3,181.5 275.4,184.6 275.5,181.1 275.7,182.7 275.8,180.8 275.9,182.5 276.0,183.1 276.1,181.5 276.2,182.2 276.3,181.5 276.4,184.1 276.5,182.3 276.6,182.8 276.8,184.4 276.9,184.0 277.0,181.8 277.1,182.7 277.2,181.2 277.3,183.8 277.4,184.7 277.5,180.4 277.6,183.1 277.7,182.3 277.9,183.7 278.0,183.5 278.1,182.8 278.2,181.1 278.3,183.4 278.4,180.9 278.5,181.2 278.6,182.5 278.7,183.5 278.8,183.6 279.0,183.2 279.1,182.7 279.2,181.2 279.3,188.8 279.4,195.3" fill="none" stroke="#0072BD" stroke-width="0.65" stroke-linejoin="round" />
<polyline points="279.3,188.8 279.4,195.3 279.5,202.2 279.5,201.3 279.6,196.9 279.7,192.4 279.8,188.2 279.9,183.2 280.0,178.5 280.1,175.9 280.2,152.6 280.3,131.2 280.4,107.6 280.4,105.9 280.5,118.9 280.6,133.2 280.7,148.4 280.8,162.9 280.9,177.3 281.0,193.3 281.1,199.2 281.2,203.9 281.3,213.7 281.4,222.4 281.5,230.2 281.6,239.2 281.7,246.4 281.8,253.8 281.8,249.0 281.9,227.1 282.0,204.3 282.1,181.6 282.2,171.1 282.3,163.4 282.4,148.7 282.5,134.2 282.5,131.8 282.6,139.2 282.7,148.0 282.8,156.5 282.9,164.2 283.0,171.1 283.0,172.8 283.1,176.8 283.2,183.3 283.4,187.5 283.4,190.3 283.5,186.8 283.6,179.8 283.7,172.3 283.8,165.5 283.8,165.9 283.9,169.7 284.0,172.0 284.1,177.1 284.2,180.7 284.3,182.9 284.3,181.9 284.5,177.5 284.6,175.0 284.6,174.8 284.7,177.0 284.8,181.8 284.9,184.0 285.0,187.4 285.0,187.3 285.1,182.4 285.2,177.8 285.3,174.6 285.4,171.8 285.4,173.3 285.6,176.5 285.7,180.7 285.8,184.7 285.9,188.8 286.0,192.3 286.0,191.8 286.1,204.6 286.2,215.0 286.3,224.4 286.3,222.2 286.4,215.2 286.5,206.5 286.7,199.5 286.8,192.9 286.9,182.1 286.9,181.5 287.0,180.0 287.1,180.9 287.2,179.6 287.3,178.2 287.4,177.8 287.5,177.3 287.6,176.2 287.8,175.2 287.8,174.8 287.9,176.2 288.0,177.3 288.1,179.2 288.2,181.2 288.3,182.3 288.4,185.1 288.5,184.6 288.6,188.4 288.7,188.1 288.7,188.5 288.9,189.1 289.0,189.8 289.1,190.7" fill="none" stroke="#0072BD" stroke-width="0.55" stroke-linejoin="round" stroke-opacity="0.72"/>
<polyline points="289.0,189.8 289.1,190.7 289.2,190.9 289.3,193.3 289.4,193.4 289.5,194.1 289.6,194.8 289.6,194.5 289.7,192.2 289.8,188.6 290.0,187.6 290.1,185.1 290.2,182.7 290.3,180.3 290.3,180.0 290.4,178.8 290.5,178.0 290.6,176.5 290.7,175.5 290.8,174.2 290.9,172.5 291.0,172.9 291.1,171.9 291.2,173.3 291.3,172.0 291.4,174.9 291.5,174.5 291.6,177.0 291.7,174.7 291.8,176.3 291.9,177.7 292.0,178.5 292.2,177.5 292.3,177.1 292.4,180.0 292.5,177.3 292.6,179.3 292.7,176.2 292.8,178.1 292.9,179.4 293.0,181.1 293.1,181.7 293.3,182.5 293.4,179.8 293.5,179.9 293.6,179.5 293.7,181.8 293.8,180.1 293.9,183.1 294.0,179.9 294.1,181.1 294.2,184.0 294.4,181.1 294.5,182.0 294.6,181.8 294.7,181.1 294.8,184.7 294.9,182.9 295.0,183.7 295.1,181.6 295.2,182.7 295.3,184.6 295.5,183.0 295.6,185.1 295.7,185.0 295.8,185.2 295.9,183.5 296.0,184.5 296.1,186.2 296.2,185.8 296.3,184.2 296.4,183.1 296.6,185.7 296.7,184.7 296.8,185.0 296.9,187.0 297.0,185.3 297.1,183.0 297.2,183.4 297.3,183.8 297.4,186.1 297.5,184.8 297.7,185.4 297.8,185.6 297.9,184.2 298.0,183.6 298.1,182.9 298.2,185.8 298.3,187.2 298.4,184.7 298.5,183.0 298.6,185.4 298.8,185.2 298.9,185.0 299.0,184.5 299.1,186.2 299.2,185.2 299.3,186.4 299.4,186.2 299.5,188.0 299.6,185.8 299.7,183.2 299.9,187.5 300.0,184.5 300.1,184.1 300.2,185.3 300.3,185.0 300.4,185.7 300.5,184.9 300.6,184.9 300.7,184.7 300.8,186.6 301.0,184.0 301.1,183.6 301.2,185.0 301.3,185.1 301.4,186.1 301.5,184.7 301.6,185.0 301.7,183.7 301.8,187.6 301.9,184.0 302.1,186.5 302.2,184.4 302.3,187.0 302.4,186.2 302.5,185.1 302.6,187.9 302.7,185.5 302.8,186.5 302.9,184.0 303.0,187.2 303.2,186.1 303.3,183.7 303.4,183.9 303.5,184.7 303.6,184.3 303.7,186.5 303.8,184.5 303.9,184.1 304.0,184.3 304.1,183.5 304.3,186.9 304.4,186.6 304.5,185.1 304.6,185.1 304.7,186.5 304.8,187.1 304.9,185.0 305.0,187.1 305.1,183.6 305.2,186.3 305.4,181.4 305.5,186.6 305.6,185.8 305.7,186.4 305.8,183.9 305.9,185.1 306.0,185.3 306.1,183.4 306.2,184.4 306.3,186.2 306.5,184.6 306.6,185.9 306.7,183.7 306.8,186.1 306.9,183.0 307.0,187.8 307.1,184.8 307.2,186.7 307.3,184.8 307.4,184.8 307.6,184.1 307.7,186.6 307.8,186.1 307.9,184.4 308.0,186.0 308.1,186.0 308.2,185.2 308.3,185.8 308.4,183.2 308.5,184.4 308.7,184.5 308.8,184.3 308.9,183.5 309.0,185.7 309.1,186.7 309.2,185.1 309.3,186.4 309.4,186.4 309.5,183.0 309.6,184.5 309.8,186.1 309.9,187.0 310.0,184.1 310.1,184.0 310.2,186.3 310.3,183.8 310.4,182.6 310.5,183.0 310.6,184.2 310.7,184.4 310.9,183.3 311.0,180.6 311.1,186.2" fill="none" stroke="#0072BD" stroke-width="0.65" stroke-linejoin="round" />
<polyline points="383.9,180.9 384.0,177.5 384.1,180.3 384.3,178.7 384.4,179.4 384.5,180.1 384.6,181.8 384.7,177.5 384.9,180.7 385.0,180.8 385.1,178.1 385.2,179.5 385.3,177.5 385.5,177.5 385.6,178.6 385.7,179.3 385.8,178.5 385.9,181.6 386.1,179.4 386.2,179.4 386.3,180.3 386.4,179.3 386.5,181.8 386.7,178.3 386.8,177.8 386.9,181.5 387.0,179.4 387.1,177.5 387.3,179.0 387.4,181.1 387.5,181.1 387.6,178.4 387.7,177.5 387.9,181.2 388.0,179.6 388.1,180.8 388.2,180.1 388.3,179.2 388.5,179.7 388.6,180.6 388.7,177.5 388.8,179.9 388.9,179.9 389.1,178.0 389.2,179.6 389.3,179.9 389.4,178.3 389.5,181.1 389.7,178.6 389.8,178.1 389.9,178.7 390.0,179.9 390.1,179.7 390.3,181.8 390.4,179.8 390.5,179.2 390.6,178.4 390.7,179.4 390.9,180.2 391.0,180.9 391.1,179.7 391.2,179.4 391.3,177.9 391.5,179.6 391.6,180.4 391.7,179.8 391.8,180.3 391.9,180.0 392.1,181.8 392.2,181.8 392.3,181.4 392.4,179.0 392.5,179.8 392.7,179.4 392.8,178.0 392.9,181.2 393.0,178.0 393.1,179.1 393.3,180.7 393.4,177.5 393.5,181.7 393.6,181.3 393.7,179.9 393.9,179.1 394.0,179.9 394.1,181.8 394.2,180.1 394.3,179.8 394.5,177.5 394.6,177.7 394.7,179.5 394.8,181.2 394.9,179.2 395.1,181.3 395.2,179.4 395.3,179.1 395.4,180.2 395.5,179.3 395.7,180.1 395.8,180.5 395.9,177.5 396.0,178.8 396.1,180.1 396.3,180.8 396.4,179.4 396.5,178.8 396.6,178.4 396.7,177.5 396.9,179.0 397.0,181.3 397.1,177.5 397.2,178.0 397.3,178.5 397.5,177.7 397.6,181.8 397.7,180.2 397.8,180.4 397.9,177.9 398.1,181.3 398.2,180.1 398.3,177.5 398.4,178.7 398.5,180.2 398.7,177.5 398.8,181.6 398.9,179.0 399.0,180.0 399.1,178.9 399.3,180.0 399.4,180.9 399.5,179.3 399.6,181.5 399.7,178.9 399.9,180.1 400.0,178.3 400.1,180.3 400.2,180.6 400.3,179.1 400.5,177.9 400.6,181.8 400.7,179.5 400.8,178.8 400.9,181.7 401.1,180.9 401.2,178.7 401.3,180.8 401.4,180.6 401.5,177.5 401.7,181.0 401.8,180.9 401.9,181.8 402.0,181.2 402.1,181.4 402.3,177.5 402.4,177.9 402.5,181.5 402.6,177.5 402.7,179.3" fill="none" stroke="#0072BD" stroke-width="0.5" stroke-linejoin="round" />
<polyline points="402.6,177.5 402.7,179.3 402.9,182.5 403.0,179.5 403.1,176.7 403.2,177.4 403.3,174.9 403.5,172.4 403.6,174.3 403.7,172.7 403.8,170.5 403.9,168.2 404.1,174.5 404.2,171.0 404.3,172.7 404.4,175.2 404.5,179.0 404.7,180.6 404.8,181.7 404.9,187.0 405.0,188.6 405.1,189.8 405.3,192.8 405.4,191.6 405.5,190.7 405.6,192.5 405.7,193.7 405.9,190.6 406.0,184.2 406.1,187.5 406.2,187.5 406.3,177.4 406.5,174.1 406.6,173.1 406.7,168.3 406.8,161.5 406.9,166.8 407.1,159.7 407.2,155.9 407.3,159.2 407.4,171.0 407.5,166.7 407.7,161.7 407.8,175.3 407.9,177.0 408.0,179.5 408.1,181.0 408.3,191.7 408.4,189.4 408.5,188.4 408.6,197.7 408.7,200.3 408.9,195.6 409.0,195.7 409.1,203.2 409.2,193.7 409.3,190.6 409.5,191.2 409.6,186.1 409.7,172.3 409.8,174.1 409.9,170.7 410.1,170.9 410.2,155.0 410.3,163.2 410.4,165.3 410.5,158.3 410.7,159.4 410.8,169.7 410.9,163.1 411.0,160.9 411.1,170.1 411.3,182.1 411.4,179.2 411.5,182.1 411.6,191.6 411.7,189.7 411.9,188.9 412.0,195.5 412.1,197.5 412.2,193.9 412.3,193.1 412.5,200.0 412.6,191.7 412.7,186.6 412.8,188.2 412.9,187.1 413.1,177.6 413.2,176.4 413.3,179.0 413.4,167.2 413.5,167.1 413.7,168.4 413.8,166.2 413.9,162.6 414.0,163.8 414.1,171.0 414.3,170.3 414.4,171.1 414.5,173.6 414.6,179.5 414.7,176.8 414.9,179.1 415.0,187.6 415.1,183.6 415.2,184.9 415.3,186.1 415.5,186.1 415.6,184.2 415.7,185.9 415.8,185.8 415.9,185.8 416.1,181.9 416.2,181.2 416.3,179.5" fill="none" stroke="#0072BD" stroke-width="0.5" stroke-linejoin="round" stroke-opacity="0.75"/>
<polyline points="416.2,181.2 416.3,179.5 416.4,180.2 416.5,180.7 416.7,177.5 416.8,179.4 416.9,179.2 417.0,180.7 417.1,179.6 417.3,180.1 417.4,181.8 417.5,181.8 417.6,179.3 417.7,179.8 417.9,181.8 418.0,181.8 418.1,180.1 418.2,179.8 418.3,178.8 418.5,181.5 418.6,178.8 418.7,180.1 418.8,180.4 418.9,179.9 419.1,178.2 419.2,178.9 419.3,178.4 419.4,180.7 419.5,180.1 419.7,181.4 419.8,180.5 419.9,180.3 420.0,180.4 420.1,178.6 420.3,179.1 420.4,178.6 420.5,179.5 420.6,178.1 420.7,179.5 420.9,178.3 421.0,178.9 421.1,178.6 421.2,179.8 421.3,181.5 421.5,181.8 421.6,177.5 421.7,179.1 421.8,179.0 421.9,179.9 422.1,180.3 422.2,177.5 422.3,181.3 422.4,179.8 422.5,179.7 422.7,181.3 422.8,181.5 422.9,180.7 423.0,180.2 423.1,180.4 423.3,178.5 423.4,181.4 423.5,179.1 423.6,177.5 423.7,178.4 423.9,181.3 424.0,181.8 424.1,178.4 424.2,178.9 424.3,180.5 424.5,177.8 424.6,180.3 424.7,179.5 424.8,181.2 424.9,179.2 425.1,180.3 425.2,180.4 425.3,178.1 425.4,179.4 425.5,181.8 425.7,178.7 425.8,178.5 425.9,180.9 426.0,180.2 426.1,179.6 426.3,180.0 426.4,179.5 426.5,178.7 426.6,180.4 426.7,177.5 426.9,180.7 427.0,180.5 427.1,177.5 427.2,177.5 427.3,179.6 427.5,179.9 427.6,181.2 427.7,178.0 427.8,179.4 427.9,180.9 428.1,179.1 428.2,177.7 428.3,178.7 428.4,177.5 428.5,178.0 428.7,179.0 428.8,179.7 428.9,178.9 429.0,177.9 429.1,178.4 429.3,178.1 429.4,179.3 429.5,178.6 429.6,177.9 429.7,179.9 429.9,181.6 430.0,177.5 430.1,178.8 430.2,180.3 430.3,179.3 430.5,180.0 430.6,181.8 430.7,179.9 430.8,181.8 430.9,179.4 431.1,179.8 431.2,178.0 431.3,179.8 431.4,179.1 431.5,180.1 431.7,180.2 431.8,181.7 431.9,178.2 432.0,179.4 432.1,180.5 432.3,179.4 432.4,180.3 432.5,180.7 432.6,179.3 432.7,177.9 432.9,180.1 433.0,181.8 433.1,180.6 433.2,177.5 433.3,180.9 433.5,177.9 433.6,180.0 433.7,178.6 433.8,179.8 433.9,181.8 434.1,180.3 434.2,177.5 434.3,179.9 434.4,178.8 434.5,180.2 434.7,179.9 434.8,179.2 434.9,179.0 435.0,177.5 435.1,179.7 435.3,179.9 435.4,180.6 435.5,181.6 435.6,181.8 435.7,178.7 435.9,181.8 436.0,177.6 436.1,178.4 436.2,180.1 436.3,181.4 436.5,179.6 436.6,179.6 436.7,178.0 436.8,180.8 436.9,180.2 437.1,179.7 437.2,180.1 437.3,180.6 437.4,181.8 437.5,181.8 437.7,180.7 437.8,180.0 437.9,178.2 438.0,177.5 438.1,177.5 438.3,179.1 438.4,177.5 438.5,179.8 438.6,180.4 438.7,177.5 438.9,181.2 439.0,180.3 439.1,180.1 439.2,177.5 439.3,180.5 439.5,178.5 439.6,180.3 439.7,181.5 439.8,179.3 439.9,179.4 440.1,181.4 440.2,180.9 440.3,180.8 440.4,178.3 440.5,179.0 440.7,179.3 440.8,178.9 440.9,180.4 441.0,179.0 441.1,180.5 441.3,181.6 441.4,180.7 441.5,179.4 441.6,179.5 441.7,178.1 441.9,181.8 442.0,180.0 442.1,179.1 442.2,181.1 442.3,179.3 442.5,180.3 442.6,181.3 442.7,178.0 442.8,181.7 442.9,178.2 443.1,180.3 443.2,181.0 443.3,181.0 443.4,180.7 443.5,180.9 443.7,179.3 443.8,181.8 443.9,177.9 444.0,178.4 444.1,177.6 444.3,181.1 444.4,181.8 444.5,180.6 444.6,179.9 444.7,179.2 444.9,180.4 445.0,179.8 445.1,179.4 445.2,181.8 445.3,177.5 445.5,181.3 445.6,179.3 445.7,178.1 445.8,180.8 445.9,179.7 446.1,177.5 446.2,180.1 446.3,178.1 446.4,179.2 446.5,179.3 446.7,178.6 446.8,180.0 446.9,180.0 447.0,178.3 447.1,179.3 447.3,178.9 447.4,181.4 447.5,179.6 447.6,177.9 447.7,178.3 447.9,179.2 448.0,180.4 448.1,180.5 448.2,179.0 448.3,177.6 448.5,179.6 448.6,177.7 448.7,180.1 448.8,177.9 448.9,181.1 449.1,179.4 449.2,181.2 449.3,178.7 449.4,178.8 449.5,181.0 449.7,180.7 449.8,180.3 449.9,181.8 450.0,181.0 450.1,180.9 450.3,178.5 450.4,177.6 450.5,180.3 450.6,180.1 450.7,179.3 450.9,180.4 451.0,180.1 451.1,178.4 451.2,179.3 451.3,179.8 451.5,180.5 451.6,177.5 451.7,180.5 451.8,179.5 451.9,181.2 452.1,180.5 452.2,179.5 452.3,180.2 452.4,178.9 452.5,179.6 452.7,181.7 452.8,181.8 452.9,178.2 453.0,180.5 453.1,177.5 453.3,179.6 453.4,180.8 453.5,178.8 453.6,180.0 453.7,179.6 453.9,181.0 454.0,178.7 454.1,178.1 454.2,180.4 454.3,177.5 454.5,180.5 454.6,179.3 454.7,181.8 454.8,181.8 454.9,177.5 455.1,177.6 455.2,178.0 455.3,181.8 455.4,179.3 455.5,179.0 455.7,179.5 455.8,179.2 455.9,181.0 456.0,179.9 456.1,181.3 456.3,180.2 456.4,179.1 456.5,180.8 456.6,180.1 456.7,180.1" fill="none" stroke="#0072BD" stroke-width="0.5" stroke-linejoin="round" />
<polyline points="456.6,180.1 456.7,180.1 456.9,181.5 457.0,178.6 457.1,179.2 457.2,178.4 457.3,177.0 457.5,172.4 457.6,172.4 457.7,174.1 457.8,170.7 457.9,173.8 458.1,173.0 458.2,174.3 458.3,172.8 458.4,175.2 458.5,181.1 458.7,179.0 458.8,182.8 458.9,188.2 459.0,189.6 459.1,186.8 459.3,195.2 459.4,197.0 459.5,198.2 459.6,194.1 459.7,199.6 459.9,189.1 460.0,186.9 460.1,185.7 460.2,190.5 460.3,176.2 460.5,175.4 460.6,175.0 460.7,169.1 460.8,163.1 460.9,169.1 461.1,162.4 461.2,154.4 461.3,162.8 461.4,168.6 461.5,165.2 461.7,161.3 461.8,171.7 461.9,180.6 462.0,178.4 462.1,185.5 462.3,195.0 462.4,193.7 462.5,191.0 462.6,200.4 462.7,204.5 462.9,199.6 463.0,194.7 463.1,208.2 463.2,198.7 463.3,192.7 463.5,191.2 463.6,190.6 463.7,174.5 463.8,175.1 463.9,175.9 464.1,164.0 464.2,158.4 464.3,164.4 464.4,162.2 464.5,160.7 464.7,158.7 464.8,165.2 464.9,167.8 465.0,161.9 465.1,167.9 465.3,178.3 465.4,178.6 465.5,182.8 465.6,186.7 465.7,192.3 465.9,192.6 466.0,197.6 466.1,203.6 466.2,192.3 466.3,189.9 466.5,201.8 466.6,192.9 466.7,185.4 466.8,188.1 466.9,185.0 467.1,175.4 467.2,173.2 467.3,175.7 467.4,173.1 467.5,167.0 467.7,171.1 467.8,169.3 467.9,165.0 468.0,168.6 468.1,174.1 468.3,174.7 468.4,171.6 468.5,178.0 468.6,178.1 468.7,179.8 468.9,180.6 469.0,180.7 469.1,180.5 469.2,182.2" fill="none" stroke="#0072BD" stroke-width="0.5" stroke-linejoin="round" stroke-opacity="0.75"/>
<polyline points="469.1,180.5 469.2,182.2 469.3,183.1 469.5,181.5 469.6,179.1 469.7,180.1 469.8,178.6 469.9,179.9 470.1,179.7 470.2,180.5 470.3,179.5 470.4,181.8 470.5,177.5 470.7,180.7 470.8,179.5 470.9,180.4 471.0,180.4 471.1,179.1 471.3,180.4 471.4,180.3 471.5,181.7 471.6,181.0 471.7,181.4 471.9,177.5 472.0,181.6 472.1,181.3 472.2,179.4 472.3,177.6 472.5,181.8 472.6,181.8 472.7,179.5 472.8,179.2 472.9,181.8 473.1,181.8 473.2,181.1 473.3,178.6 473.4,179.8 473.5,178.6 473.7,179.9 473.8,179.7 473.9,178.8 474.0,179.9 474.1,179.4 474.3,181.0 474.4,180.6 474.5,179.0 474.6,180.0 474.7,180.8 474.9,178.7 475.0,178.9 475.1,179.7 475.2,180.8 475.3,178.4 475.5,177.5 475.6,180.9 475.7,181.8 475.8,180.8 475.9,181.1 476.1,181.5 476.2,181.4 476.3,178.5 476.4,178.4 476.5,177.5 476.7,178.6 476.8,180.4 476.9,178.1 477.0,180.6 477.1,180.2 477.3,181.4 477.4,177.9 477.5,178.2 477.6,180.4 477.7,180.2 477.9,179.7 478.0,179.4 478.1,178.5 478.2,179.6 478.3,179.1 478.5,181.8 478.6,180.2 478.7,181.8 478.8,177.5 478.9,177.7 479.1,178.7 479.2,178.1 479.3,177.5 479.4,178.3 479.5,181.8 479.7,180.0 479.8,181.8 479.9,180.9 480.0,181.5 480.1,179.7 480.3,179.1 480.4,181.1 480.5,180.1 480.6,179.3 480.7,179.9 480.9,180.0 481.0,181.8 481.1,180.4 481.2,178.6 481.3,179.3 481.5,181.8 481.6,180.1 481.7,179.3 481.8,181.1 481.9,178.7 482.1,180.9 482.2,180.2 482.3,179.9 482.4,177.5 482.5,180.2 482.7,180.6 482.8,178.7 482.9,180.4 483.0,179.4 483.1,181.8 483.3,179.3 483.4,179.8 483.5,181.6 483.6,177.7 483.7,180.1 483.9,180.0 484.0,181.6 484.1,181.8 484.2,180.6 484.3,181.8 484.5,179.0 484.6,178.5 484.7,180.7 484.8,181.8 484.9,180.3 485.1,181.3 485.2,179.5 485.3,179.5 485.4,180.3 485.5,179.6 485.7,178.2 485.8,177.5 485.9,180.5 486.0,178.7 486.1,180.1 486.3,181.3 486.4,177.9 486.5,179.2 486.6,179.5 486.7,179.2 486.9,180.0 487.0,181.3 487.1,177.5 487.2,178.4 487.3,179.3 487.5,178.3 487.6,177.9 487.7,180.0 487.8,178.9 487.9,180.2 488.1,178.8 488.2,180.1 488.3,177.5 488.4,180.3 488.5,179.0 488.7,179.1 488.8,180.2 488.9,178.4 489.0,179.9 489.1,180.3 489.3,179.7 489.4,180.8 489.5,178.0 489.6,178.8 489.7,178.3 489.9,181.7 490.0,179.3 490.1,180.9 490.2,179.6 490.3,177.9 490.5,179.4 490.6,180.0 490.7,178.1 490.8,178.3 490.9,177.5 491.1,181.8 491.2,179.3 491.3,180.3 491.4,181.0 491.5,179.6 491.7,181.4 491.8,181.8 491.9,181.0 492.0,180.1 492.1,177.5 492.3,180.8 492.4,181.4 492.5,181.8 492.6,180.2 492.7,180.1 492.9,179.5 493.0,181.8 493.1,180.8 493.2,181.8 493.3,179.5 493.5,181.8 493.6,181.8 493.7,178.0 493.8,179.0 493.9,179.2 494.1,179.2 494.2,181.2 494.3,178.2 494.4,181.3 494.5,177.5 494.7,179.4 494.8,181.8 494.9,178.5 495.0,177.5 495.1,180.1 495.3,178.2 495.4,180.0 495.5,180.6 495.6,181.8 495.7,177.9 495.9,180.4 496.0,179.2 496.1,181.4 496.2,181.1 496.3,178.1 496.5,180.3 496.6,180.3 496.7,181.6 496.8,179.4 496.9,178.6 497.1,180.4 497.2,180.0 497.3,181.5 497.4,177.7 497.5,180.6 497.7,180.0 497.8,177.5 497.9,180.1 498.0,181.8 498.1,181.1 498.3,180.2 498.4,177.5 498.5,179.4 498.6,180.1 498.7,178.5 498.9,177.8 499.0,180.8 499.1,177.6 499.2,178.5 499.3,179.1 499.5,181.8 499.6,179.4 499.7,177.7 499.8,180.1 499.9,177.5 500.1,179.6 500.2,181.2 500.3,178.8 500.4,179.3 500.5,178.5 500.7,180.0 500.8,177.8 500.9,180.5 501.0,179.5 501.1,181.5 501.3,180.9 501.4,179.4 501.5,180.7 501.6,180.4 501.7,180.0 501.9,179.3 502.0,178.6 502.1,178.6 502.2,178.2 502.3,179.4 502.5,180.5 502.6,181.8 502.7,180.2 502.8,180.9 502.9,181.8 503.1,177.5 503.2,181.8 503.3,179.2 503.4,178.9 503.5,180.1 503.7,177.5 503.8,179.7 503.9,180.8 504.0,177.5 504.1,180.9 504.3,181.8 504.4,181.2 504.5,180.7 504.6,179.6 504.7,179.2 504.9,181.8 505.0,179.2 505.1,177.5 505.2,180.8 505.3,179.9 505.5,178.7 505.6,177.9 505.7,180.7 505.8,181.1 505.9,181.2 506.1,178.1 506.2,178.4 506.3,181.8 506.4,181.8 506.5,181.5 506.7,181.8 506.8,179.1 506.9,179.4 507.0,177.5 507.1,178.5 507.3,179.5 507.4,178.0 507.5,181.0 507.6,181.8 507.7,179.7 507.9,178.3 508.0,181.8 508.1,178.4 508.2,178.4 508.3,180.4 508.5,179.5 508.6,180.1 508.7,179.6 508.8,178.5 508.9,180.9 509.1,180.2" fill="none" stroke="#0072BD" stroke-width="0.5" stroke-linejoin="round" />
<polyline points="508.9,180.9 509.1,180.2 509.2,179.5 509.3,175.5 509.4,175.7 509.5,180.1 509.7,173.9 509.8,172.4 509.9,173.8 510.0,172.4 510.1,168.8 510.3,171.2 510.4,174.4 510.5,172.8 510.6,171.6 510.7,176.4 510.9,177.7 511.0,179.5 511.1,185.0 511.2,187.6 511.3,189.8 511.5,190.7 511.6,190.5 511.7,194.5 511.8,187.1 511.9,192.2 512.1,197.2 512.2,188.8 512.3,183.2 512.4,189.0 512.5,181.4 512.7,174.2 512.8,175.5 512.9,175.8 513.0,167.4 513.1,160.4 513.3,168.3 513.4,164.1 513.5,161.5 513.6,158.8 513.7,167.8 513.9,165.8 514.0,165.3 514.1,174.8 514.2,177.8 514.3,176.9 514.5,184.2 514.6,194.8 514.7,188.9 514.8,193.1 514.9,200.8 515.1,196.7 515.2,196.6 515.3,194.8 515.4,195.3 515.5,190.4 515.7,184.5 515.8,190.1 515.9,187.9 516.0,174.4 516.1,173.0 516.3,172.2 516.4,168.7 516.5,161.7 516.6,163.3 516.7,164.5 516.9,150.8 517.0,163.7 517.1,166.0 517.2,164.6 517.3,165.4 517.5,176.8 517.6,180.1 517.7,172.6 517.8,184.3 517.9,194.4 518.1,188.8 518.2,190.8 518.3,196.4 518.4,192.3 518.5,193.7 518.7,197.3 518.8,198.2 518.9,193.0 519.0,181.8 519.1,186.2 519.3,183.6 519.4,175.9 519.5,177.8 519.6,181.2 519.7,170.8 519.9,164.3 520.0,169.5 520.1,166.8 520.2,161.1 520.3,167.2 520.5,173.2 520.6,170.8 520.7,169.0 520.8,176.9 520.9,181.9 521.1,177.7 521.2,180.3 521.3,183.5 521.4,182.9 521.5,183.5 521.7,184.0 521.8,186.6 521.9,183.1 522.0,185.0 522.1,184.8 522.3,182.6 522.4,180.6 522.5,182.0" fill="none" stroke="#0072BD" stroke-width="0.5" stroke-linejoin="round" stroke-opacity="0.75"/>
<polyline points="522.4,180.6 522.5,182.0 522.6,180.8 522.7,180.0 522.9,178.3 523.0,178.8 523.1,180.3 523.2,179.0 523.3,179.1 523.5,178.6 523.6,179.4 523.7,177.6 523.8,179.4 523.9,178.3 524.1,179.6 524.2,180.5 524.3,181.1 524.4,179.9 524.5,178.9 524.7,177.8 524.8,179.8 524.9,180.5 525.0,180.4 525.1,177.7 525.3,179.5 525.4,180.4 525.5,178.6 525.6,181.7 525.7,179.5 525.9,179.7 526.0,179.9 526.1,181.4 526.2,178.2 526.3,177.5 526.5,181.7 526.6,179.5 526.7,178.7 526.8,177.5 526.9,180.3 527.1,181.1 527.2,179.7 527.3,177.5 527.4,179.6 527.5,179.3 527.7,177.5 527.8,181.8 527.9,181.8 528.0,178.3 528.1,178.5 528.3,181.7 528.4,178.9 528.5,179.6 528.6,179.3 528.7,180.9 528.9,180.4 529.0,181.0 529.1,179.6 529.2,180.0 529.3,177.5 529.5,178.7 529.6,181.8 529.7,179.0 529.8,177.5 529.9,179.3 530.1,178.0 530.2,179.7 530.3,178.6 530.4,181.1 530.5,178.5 530.7,181.7 530.8,177.7 530.9,181.8 531.0,181.8 531.1,178.9 531.3,179.9 531.4,179.5 531.5,179.0 531.6,179.7 531.7,181.0 531.9,179.4 532.0,179.2 532.1,178.9 532.2,177.5 532.3,180.8 532.5,179.6 532.6,178.8 532.7,180.3 532.8,181.5 532.9,180.5 533.1,178.1 533.2,180.1 533.3,178.8 533.4,180.8 533.5,179.0 533.7,180.7 533.8,180.9 533.9,179.5 534.0,179.6 534.1,177.5 534.3,181.8 534.4,178.9 534.5,177.5 534.6,177.6 534.7,180.2 534.9,180.7 535.0,180.4 535.1,179.2 535.2,179.4 535.3,179.1 535.5,178.8 535.6,181.3 535.7,181.4 535.8,181.5 535.9,181.7 536.1,179.8 536.2,179.2 536.3,177.5 536.4,178.9 536.5,179.6 536.7,177.5 536.8,180.8 536.9,179.2 537.0,178.2 537.1,178.5 537.3,179.1 537.4,180.2 537.5,181.5 537.6,179.9 537.7,180.6 537.9,178.6 538.0,179.9 538.1,178.8 538.2,181.8 538.3,178.2 538.5,180.9 538.6,181.8 538.7,181.7 538.8,180.6 538.9,178.0 539.1,178.6 539.2,181.4 539.3,179.5 539.4,179.8 539.5,181.8 539.7,181.2 539.8,181.8 539.9,181.0 540.0,181.8 540.1,180.9 540.3,181.1 540.4,180.9 540.5,180.9 540.6,177.9 540.7,180.2 540.9,179.3 541.0,178.5 541.1,178.3 541.2,178.7 541.3,180.5 541.5,181.3 541.6,180.8 541.7,180.4 541.8,179.7 541.9,179.8 542.1,178.0 542.2,179.8 542.3,177.5 542.4,178.1 542.5,180.4 542.7,178.4 542.8,181.8 542.9,177.6 543.0,179.1 543.1,179.1 543.3,181.8 543.4,177.5 543.5,180.1 543.6,179.9 543.7,178.0 543.9,180.0 544.0,180.9 544.1,178.7 544.2,181.2 544.3,178.6 544.5,179.5 544.6,178.0 544.7,181.5 544.8,177.8 544.9,179.2 545.1,177.5 545.2,180.6 545.3,177.5 545.4,178.6 545.5,178.5 545.7,180.8 545.8,178.8 545.9,178.7 546.0,180.9 546.1,181.4 546.3,180.8 546.4,177.5 546.5,179.4 546.6,178.3 546.7,179.2 546.9,179.5 547.0,179.3 547.1,180.3 547.2,177.8 547.3,179.4 547.5,179.3 547.6,181.7 547.7,179.2 547.8,180.7 547.9,180.4 548.1,178.1 548.2,181.3 548.3,180.0 548.4,178.7 548.5,178.0 548.7,180.4 548.8,179.2 548.9,179.2 549.0,181.4 549.1,181.8 549.3,181.8 549.4,178.8 549.5,179.5 549.6,181.7 549.7,180.6 549.9,180.3 550.0,180.2 550.1,179.7 550.2,177.5 550.3,180.8 550.5,179.5 550.6,180.8 550.7,180.6 550.8,181.0 550.9,180.0 551.1,180.5 551.2,179.2 551.3,179.4 551.4,181.0 551.5,177.5 551.7,181.4 551.8,179.1 551.9,177.5 552.0,180.7 552.1,177.7 552.3,177.6 552.4,179.2 552.5,181.8 552.6,177.6 552.7,179.5 552.9,180.5 553.0,177.8 553.1,180.8 553.2,178.1 553.3,180.5 553.5,178.9 553.6,181.3 553.7,180.3 553.8,181.0 553.9,180.7 554.1,179.4 554.2,179.9 554.3,179.4 554.4,177.8 554.5,179.8 554.7,181.8 554.8,180.1 554.9,179.6 555.0,178.2 555.1,178.1 555.3,178.3 555.4,180.0 555.5,178.7 555.6,181.8 555.7,177.7 555.9,179.0 556.0,178.9 556.1,180.2 556.2,179.6 556.3,180.7 556.5,178.8 556.6,181.7 556.7,178.2 556.8,178.9 556.9,177.5 557.1,179.7 557.2,179.8 557.3,179.4 557.4,179.6 557.5,179.8 557.7,181.3 557.8,181.3 557.9,180.5 558.0,180.1 558.1,181.4 558.3,181.4 558.4,180.1 558.5,178.6 558.6,180.0 558.7,178.7 558.9,178.2 559.0,178.5 559.1,180.3 559.2,180.3 559.3,181.8 559.5,180.7 559.6,179.0 559.7,181.3 559.8,177.7 559.9,177.5 560.1,180.2 560.2,178.3 560.3,181.8 560.4,181.2 560.5,180.2 560.7,179.7 560.8,179.9 560.9,181.0 561.0,177.5 561.1,179.2 561.3,179.2 561.4,178.7 561.5,181.5" fill="none" stroke="#0072BD" stroke-width="0.5" stroke-linejoin="round" />
<polyline points="561.4,178.7 561.5,181.5 561.6,179.8 561.7,177.6 561.9,179.0 562.0,178.6 562.1,169.1 562.2,167.8 562.3,171.2 562.5,169.1 562.6,165.2 562.7,171.4 562.8,168.9 562.9,168.3 563.1,173.2 563.2,183.1 563.3,179.1 563.4,182.7 563.5,186.7 563.7,195.3 563.8,191.1 563.9,192.1 564.0,197.5 564.1,193.7 564.3,187.2 564.4,197.2 564.5,199.9 564.6,190.0 564.7,186.7 564.9,191.4 565.0,183.0 565.1,170.6 565.2,170.0 565.3,168.5 565.5,163.7 565.6,154.2 565.7,159.9 565.8,157.5 565.9,154.8 566.1,164.6 566.2,161.7 566.3,160.4 566.4,161.0 566.5,175.8 566.7,178.4 566.8,174.3 566.9,194.2 567.0,195.6 567.1,190.7 567.3,195.9 567.4,205.5 567.5,197.4 567.6,196.8 567.7,198.0 567.9,203.6 568.0,188.6 568.1,188.2 568.2,187.7 568.3,182.7 568.5,175.9 568.6,177.6 568.7,174.8 568.8,160.6 568.9,161.5 569.1,166.0 569.2,152.1 569.3,149.7 569.4,162.2 569.5,159.6 569.7,157.8 569.8,168.1 569.9,178.8 570.0,175.4 570.1,173.0 570.3,190.1 570.4,190.4 570.5,184.3 570.6,194.8 570.7,194.4 570.9,197.4 571.0,191.2 571.1,199.8 571.2,195.7 571.3,187.3 571.5,184.6 571.6,187.9 571.7,185.4 571.8,179.4 571.9,178.6 572.1,177.4 572.2,170.1 572.3,168.7 572.4,171.9 572.5,169.8 572.7,164.4 572.8,171.9 572.9,175.8 573.0,171.7 573.1,174.3 573.3,178.8 573.4,178.4 573.5,180.0" fill="none" stroke="#0072BD" stroke-width="0.5" stroke-linejoin="round" stroke-opacity="0.75"/>
<polyline points="573.4,178.4 573.5,180.0 573.6,180.3 573.7,180.6 573.9,178.7 574.0,178.3 574.1,178.1 574.2,179.8 574.3,179.7 574.5,181.8 574.6,179.6 574.7,179.3 574.8,177.6 574.9,181.6 575.1,180.9 575.2,181.2 575.3,178.3 575.4,181.8 575.5,181.3 575.7,177.5 575.8,178.7 575.9,181.6 576.0,179.8 576.1,178.4 576.3,178.9 576.4,180.0 576.5,180.8 576.6,178.4 576.7,179.7 576.9,178.5 577.0,179.1 577.1,180.4 577.2,177.5 577.3,180.4 577.5,179.0 577.6,180.6 577.7,180.0 577.8,180.0 577.9,180.6 578.1,179.3 578.2,177.7 578.3,177.5 578.4,177.6 578.5,179.9 578.7,177.5 578.8,179.1 578.9,177.5 579.0,181.5 579.1,177.5 579.3,180.6 579.4,178.0 579.5,180.4 579.6,178.3 579.7,180.1 579.9,181.8 580.0,181.1 580.1,180.0 580.2,179.6 580.3,181.8 580.5,181.4 580.6,180.7 580.7,180.0 580.8,179.3 580.9,180.9 581.1,181.8 581.2,179.2 581.3,180.2 581.4,178.4 581.5,180.4 581.7,178.7 581.8,181.0 581.9,179.3 582.0,179.5 582.1,179.0 582.3,181.0 582.4,179.9 582.5,180.9 582.6,179.9 582.7,178.8 582.9,177.5 583.0,179.6 583.1,178.6 583.2,179.5 583.3,178.0 583.5,179.0 583.6,178.1 583.7,179.1 583.8,177.5 583.9,177.6 584.1,181.8 584.2,179.2 584.3,179.6 584.4,181.8 584.5,180.9 584.7,180.3 584.8,180.7 584.9,179.5 585.0,181.8 585.1,178.6 585.3,178.5 585.4,179.1 585.5,180.2 585.6,179.7 585.7,180.3 585.9,178.0 586.0,178.9 586.1,177.5 586.2,180.2 586.3,177.5 586.5,180.5 586.6,179.9 586.7,181.2 586.8,178.9 586.9,179.8 587.1,178.8 587.2,177.5 587.3,179.7 587.4,179.1 587.5,178.3 587.7,179.7 587.8,180.5 587.9,179.1 588.0,178.9 588.1,178.5 588.3,178.4 588.4,180.6 588.5,179.0 588.6,177.9 588.7,180.3 588.9,179.1 589.0,180.6 589.1,179.4 589.2,177.5 589.3,179.4 589.5,181.1 589.6,179.2 589.7,179.3 589.8,178.0 589.9,181.7 590.1,181.0 590.2,179.8 590.3,181.8 590.4,178.0 590.5,181.8 590.7,180.9 590.8,181.8 590.9,180.6 591.0,178.5 591.1,178.8 591.3,178.3 591.4,178.8 591.5,181.8 591.6,179.2 591.7,181.8 591.9,180.4 592.0,180.2 592.1,180.5 592.2,178.9 592.3,180.8 592.5,177.5 592.6,178.8 592.7,177.9 592.8,178.6 592.9,178.4 593.1,179.7 593.2,177.5 593.3,181.2 593.4,179.0 593.5,179.7 593.7,180.0 593.8,179.2 593.9,180.8 594.0,178.4 594.1,178.5 594.3,179.5 594.4,178.6 594.5,181.2 594.6,181.8 594.7,180.5 594.9,180.0 595.0,177.5 595.1,180.0 595.2,178.1 595.3,178.4 595.5,177.5 595.6,179.5 595.7,178.7 595.8,179.9 595.9,180.9 596.1,181.1 596.2,180.8 596.3,177.6 596.4,179.2 596.5,179.9 596.7,179.6 596.8,180.5 596.9,179.7 597.0,179.7 597.1,178.7 597.3,178.3 597.4,181.8 597.5,179.3 597.6,177.6 597.7,181.2 597.9,180.0 598.0,179.4 598.1,178.0 598.2,178.8 598.3,180.0 598.5,178.9 598.6,178.1 598.7,179.1 598.8,177.5 598.9,179.0 599.1,181.2 599.2,180.8 599.3,179.9 599.4,180.0 599.5,178.7 599.7,179.1 599.8,177.5 599.9,178.5 600.0,177.5 600.1,180.8 600.3,180.3 600.4,178.7 600.5,179.5 600.6,178.7 600.7,179.3 600.9,180.6 601.0,177.5 601.1,178.0 601.2,181.8 601.3,180.6 601.5,179.6 601.6,178.7 601.7,179.8 601.8,181.6 601.9,178.4 602.1,180.0 602.2,177.9 602.3,179.2 602.4,178.2 602.5,178.4 602.7,178.4 602.8,180.4 602.9,178.1 603.0,179.3 603.1,181.5 603.3,180.2 603.4,180.1 603.5,179.0 603.6,178.6 603.7,181.3 603.9,178.6 604.0,179.7 604.1,181.2 604.2,178.4 604.3,180.8 604.5,181.4 604.6,178.5 604.7,178.3 604.8,180.6 604.9,178.1 605.1,178.2 605.2,180.4 605.3,177.5 605.4,179.7 605.5,179.3 605.7,181.8 605.8,178.7 605.9,180.5 606.0,179.0 606.1,181.8 606.3,177.9 606.4,177.5 606.5,177.5 606.6,181.8 606.7,178.8 606.9,179.1 607.0,181.8 607.1,180.7 607.2,179.8 607.3,177.6 607.5,180.8 607.6,179.3 607.7,179.7 607.8,179.1 607.9,180.2 608.1,178.3 608.2,178.2 608.3,181.6 608.4,178.0 608.5,180.7 608.7,180.0 608.8,178.0 608.9,179.5 609.0,178.8 609.1,178.5 609.3,178.7 609.4,180.4 609.5,181.0 609.6,178.6 609.7,178.5 609.9,179.9" fill="none" stroke="#0072BD" stroke-width="0.5" stroke-linejoin="round" />
<polyline points="609.7,178.5 609.9,179.9 610.0,181.2 610.1,177.8 610.2,176.3 610.3,179.5 610.5,175.3 610.6,171.2 610.7,173.9 610.8,171.8 610.9,165.7 611.1,173.8 611.2,175.4 611.3,171.2 611.4,171.7 611.5,176.2 611.7,181.4 611.8,181.5 611.9,184.7 612.0,188.9 612.1,192.4 612.3,191.6 612.4,193.7 612.5,195.9 612.6,194.2 612.7,195.0 612.9,193.6 613.0,190.3 613.1,185.6 613.2,190.6 613.3,185.3 613.5,170.4 613.6,174.2 613.7,177.1 613.8,165.7 613.9,160.5 614.1,162.6 614.2,164.7 614.3,153.4 614.4,158.6 614.5,166.0 614.7,164.5 614.8,165.4 614.9,177.2 615.0,179.6 615.1,179.8 615.3,183.2 615.4,197.8 615.5,192.7 615.6,192.7 615.7,201.4 615.9,200.0 616.0,196.0 616.1,201.2 616.2,199.5 616.3,196.4 616.5,189.6 616.6,197.2 616.7,189.5 616.8,171.2 616.9,171.3 617.1,179.7 617.2,163.9 617.3,159.0 617.4,166.1 617.5,163.5 617.7,158.8 617.8,162.4 617.9,162.1 618.0,160.8 618.1,164.7 618.3,173.4 618.4,176.6 618.5,172.8 618.6,182.9 618.7,191.9 618.9,189.9 619.0,189.4 619.1,199.7 619.2,193.5 619.3,191.6 619.5,193.4 619.6,197.2 619.7,193.1 619.8,190.1 619.9,189.1 620.1,183.2 620.2,175.0 620.3,178.6 620.4,179.3 620.5,172.3 620.7,166.6 620.8,169.8 620.9,172.9 621.0,167.0 621.1,169.4 621.3,171.1 621.4,171.7 621.5,172.1 621.6,179.8 621.7,177.5 621.9,178.7 622.0,181.3 622.1,181.6 622.2,183.7 622.3,182.0" fill="none" stroke="#0072BD" stroke-width="0.5" stroke-linejoin="round" stroke-opacity="0.75"/>
<polyline points="622.2,183.7 622.3,182.0 622.5,181.1 622.6,179.2 622.7,179.7 622.8,181.8 622.9,180.7 623.1,177.5 623.2,178.5 623.3,179.4 623.4,178.3 623.5,181.8 623.7,180.7 623.8,181.4 623.9,180.7 624.0,180.1 624.1,178.8 624.3,178.1 624.4,178.1 624.5,177.5 624.6,180.2 624.7,179.6 624.9,178.8 625.0,180.7 625.1,179.9 625.2,178.9 625.3,180.8 625.5,178.9 625.6,177.8 625.7,181.1 625.8,181.8 625.9,179.4 626.1,181.0 626.2,179.3 626.3,180.2 626.4,179.1 626.5,177.9 626.7,178.4 626.8,180.1 626.9,181.2 627.0,181.8 627.1,181.8 627.3,180.7 627.4,179.4 627.5,180.5 627.6,180.4 627.7,181.8 627.9,181.8 628.0,181.8 628.1,178.7 628.2,181.8 628.3,178.6 628.5,180.9 628.6,178.8 628.7,179.2 628.8,178.5 628.9,177.9 629.1,180.7 629.2,181.0 629.3,180.3 629.4,180.7 629.5,178.7 629.7,179.8 629.8,179.6 629.9,179.0 630.0,180.3 630.1,178.1 630.3,181.8 630.4,179.3 630.5,178.9 630.6,180.8 630.7,180.7 630.9,178.3 631.0,180.1 631.1,181.8 631.2,181.6 631.3,178.2 631.5,180.9 631.6,177.8 631.7,177.7 631.8,180.0 631.9,178.9 632.1,180.9 632.2,180.3 632.3,180.7 632.4,178.8 632.5,181.5 632.7,179.9 632.8,179.6 632.9,178.9 633.0,181.8 633.1,181.8 633.3,181.0 633.4,180.0 633.5,179.5 633.6,179.4 633.7,177.5 633.9,178.7 634.0,178.8 634.1,180.4 634.2,178.5 634.3,178.7 634.5,178.7 634.6,179.8 634.7,178.8 634.8,177.5 634.9,180.8 635.1,181.8 635.2,178.5 635.3,178.6 635.4,180.0 635.5,180.3 635.7,177.5 635.8,180.4 635.9,181.5 636.0,180.4 636.1,179.0 636.3,180.6 636.4,180.3 636.5,179.2 636.6,180.3 636.7,179.5 636.9,179.8 637.0,181.2 637.1,179.6 637.2,181.4 637.3,178.3 637.5,181.0 637.6,180.0 637.7,181.8 637.8,180.3 637.9,181.5 638.1,177.5 638.2,179.9 638.3,178.9 638.4,181.8 638.5,181.5 638.7,179.9 638.8,181.7 638.9,178.0 639.0,180.3 639.1,179.5 639.3,179.3 639.4,179.9 639.5,178.6 639.6,180.7 639.7,179.2 639.9,178.0 640.0,179.4 640.1,179.5" fill="none" stroke="#0072BD" stroke-width="0.5" stroke-linejoin="round" />
<path d="M383.9 176.2L384.0 181.8M385.0 173.9L385.1 184.8M386.7 174.9L386.8 182.3M386.9 173.7L387.0 183.2M388.6 186.3L388.7 176.4M389.2 186.3L389.3 177.3M389.4 184.2L389.5 176.2M389.5 175.8L389.7 182.5M390.5 176.4L390.6 181.2M391.2 173.0L391.3 181.8M392.4 183.7L392.5 178.4M392.9 183.5L393.0 176.3M394.8 184.6L394.9 176.3M397.5 176.2L397.6 182.3M398.1 184.7L398.2 174.9M398.8 184.4L398.9 177.5M400.7 173.8L400.8 184.6M401.2 172.5L401.3 184.9M401.5 186.7L401.7 175.1M416.7 186.9L416.8 176.0M417.7 174.6L417.9 182.3M417.9 173.2L418.0 184.7M418.5 182.6L418.6 178.7M419.9 186.0L420.0 175.2M421.8 186.6L421.9 176.7M423.9 184.3L424.0 176.3M426.3 174.0L426.4 182.1M429.4 184.9L429.5 176.2M429.7 173.9L429.9 184.2M430.2 175.1L430.3 182.2M430.3 175.5L430.5 181.1M431.5 186.5L431.7 174.2M433.9 183.5L434.1 176.9M435.0 185.8L435.1 175.8M435.7 172.4L435.9 182.6M438.0 173.5L438.1 183.7M440.4 182.6L440.5 178.7M440.8 186.5L440.9 177.4M442.6 176.4L442.7 180.9M443.3 173.1L443.4 185.5M444.1 185.2L444.3 175.0M445.7 183.2L445.8 177.9M448.1 174.0L448.2 182.0M448.3 175.3L448.5 181.2M450.6 176.1L450.7 181.5M452.2 175.8L452.3 183.2M452.9 173.1L453.0 183.6M453.5 185.4L453.6 175.4M455.3 174.1L455.4 185.0M469.8 173.9L469.9 184.4M472.5 185.0L472.6 175.1M474.9 175.3L475.0 182.5M475.9 183.6L476.1 176.9M477.0 185.0L477.1 178.0M477.7 173.3L477.9 182.1M477.9 174.7L478.0 184.6M479.2 186.1L479.3 173.7M479.9 175.6L480.0 183.4M480.1 173.0L480.3 184.4M480.5 184.8L480.6 176.2M480.9 186.4L481.0 174.3M482.2 173.2L482.3 182.1M482.5 175.9L482.7 181.9M484.5 172.9L484.6 186.2M485.8 184.7L485.9 175.6M487.3 173.7L487.5 183.3M487.9 185.1L488.1 174.3M488.7 173.2L488.8 183.0M492.5 184.7L492.6 176.9M492.6 184.2L492.7 178.2M493.0 174.9L493.1 181.4M494.2 176.7L494.3 180.7M496.3 173.9L496.5 184.5M499.0 182.9L499.1 178.6M500.8 186.4L500.9 175.4M501.0 183.2L501.1 177.1M501.1 172.9L501.3 182.2M502.8 174.2L502.9 183.0M502.9 174.6L503.1 181.4M503.3 175.8L503.4 182.0M503.4 182.7L503.5 178.6M504.1 185.2L504.3 177.0M504.9 174.4L505.0 183.1M507.3 186.0L507.4 175.5M507.5 176.6L507.6 180.6M524.2 174.8L524.3 182.2M525.7 183.2L525.9 176.6M526.1 183.9L526.2 176.7M528.1 173.7L528.3 182.6M528.3 176.0L528.4 182.0M534.4 173.6L534.5 183.4M534.7 182.7L534.9 178.4M537.9 182.7L538.0 177.2M539.4 186.8L539.5 172.7M540.7 183.1L540.9 177.8M540.9 185.2L541.0 177.9M541.8 172.8L541.9 186.5M542.8 183.9L542.9 176.5M543.7 184.4L543.9 176.5M545.5 173.0L545.7 182.2M545.8 175.3L545.9 183.6M546.7 186.7L546.9 177.2M549.4 186.0L549.5 176.8M553.3 183.6L553.5 178.3M555.3 185.6L555.4 174.4M555.9 175.3L556.0 181.4M556.9 175.2L557.1 181.5M557.8 183.0L557.9 177.8M558.7 182.7L558.9 177.4M560.2 185.4L560.3 176.2M560.4 183.8L560.5 178.1M561.0 172.6L561.1 184.1M574.3 173.2L574.5 183.9M581.7 186.8L581.8 173.3M583.7 174.3L583.8 183.4M585.6 174.0L585.7 181.9M586.7 173.6L586.8 184.5M586.8 187.0L586.9 174.0M588.0 184.2L588.1 176.4M589.9 176.7L590.1 181.0M592.3 174.6L592.5 181.8M593.4 172.6L593.5 186.0M595.2 173.4L595.3 185.5M596.3 173.9L596.4 181.7M597.6 185.9L597.7 176.6M600.3 173.6L600.4 185.1M600.9 184.1L601.0 178.1M605.8 173.1L605.9 183.5M606.7 186.0L606.9 176.7M608.4 186.7L608.5 173.8M623.5 186.3L623.7 174.8M626.9 183.4L627.0 176.5M629.7 185.8L629.8 174.5M632.3 172.5L632.4 186.6M633.7 172.4L633.9 184.8M635.9 173.4L636.0 186.0" fill="none" stroke="#0072BD" stroke-width="0.5" stroke-opacity="0.7"/>
<path d="M402.50 102.4V251.6M456.50 97.0V241.8M508.80 150.5V204.9M561.20 131.9V225.5M609.60 117.7V237.5" fill="none" stroke="#0072BD" stroke-width="0.6" stroke-opacity="0.8"/>
<polyline points="56.0,441.3 56.4,441.0 56.7,441.4 57.1,441.4 57.4,441.7 57.8,441.7 58.1,441.8 58.5,441.6 58.8,441.4 59.2,440.8 59.5,440.7 59.9,440.8 60.2,442.0 60.6,442.7 60.9,442.8 61.3,442.3 61.6,442.2 62.0,442.2 62.3,442.0 62.7,441.8 63.0,441.7 63.4,441.8 63.7,441.8 64.1,442.0 64.4,442.1 64.8,441.7 65.1,441.8 65.5,442.4 65.8,442.8 66.2,442.3 66.5,442.2 66.9,441.6 67.2,441.9 67.6,441.4 67.9,441.9 68.3,441.5 68.6,441.6 69.0,441.2 69.3,442.0 69.7,441.8 70.0,442.4 70.4,441.9 70.7,442.0 71.1,441.5 71.4,441.3 71.8,441.4 72.1,441.3 72.5,441.7 72.8,441.4 73.2,441.1 73.4,441.6 73.5,443.7 73.9,449.5 74.2,455.4" fill="none" stroke="#0072BD" stroke-width="0.65" stroke-linejoin="round" />
<polyline points="73.9,449.5 74.2,455.4 74.4,459.1 74.6,454.6 74.9,444.7 75.1,438.5 75.3,422.8 75.6,385.6 75.6,386.6 76.0,427.7 76.1,447.2 76.3,471.7 76.6,508.0 76.7,501.0 77.0,450.3 77.1,436.0 77.4,423.7 77.5,416.7 77.7,423.8 78.1,437.0 78.1,438.5 78.4,436.8 78.7,433.5 78.8,433.9 79.1,436.4 79.3,437.3 79.5,437.1 79.8,435.7 79.9,435.4 80.2,439.2 80.5,444.7 80.5,444.1 80.9,450.3 81.2,456.5 81.6,460.8 81.7,463.4 81.9,456.7 82.3,447.1 82.5,438.5 82.6,437.9 83.0,437.0 83.3,436.0 83.3,436.3 83.7,439.7 84.0,443.4 84.4,447.1 84.4,448.5 84.7,445.9 85.1,443.7 85.4,440.8 85.8,436.8 86.0,436.0 86.1,436.8 86.5,437.1 86.8,437.9 87.2,438.0 87.5,439.1 87.5,438.6 87.9,440.1 88.2,439.2 88.6,440.7 88.9,439.1" fill="none" stroke="#0072BD" stroke-width="0.55" stroke-linejoin="round" stroke-opacity="0.85"/>
<polyline points="88.6,440.7 88.9,439.1 89.3,441.1 89.6,440.5 90.0,441.5 90.3,441.3 90.6,441.9 90.7,442.4 91.0,441.5 91.4,441.3 91.7,441.2 92.1,441.3 92.4,441.3 92.8,441.2 93.1,441.5 93.5,441.5 93.8,441.6 94.2,441.3 94.5,440.8 94.9,441.0 95.2,440.4 95.6,440.6 95.9,440.6 96.3,441.7 96.6,442.2 97.0,441.8 97.3,442.5 97.7,442.2 98.0,442.9 98.4,442.1 98.7,442.0 99.1,442.0 99.4,442.3 99.8,441.9 100.1,441.6 100.5,441.3 100.8,441.8 101.2,441.4 101.5,441.0 101.9,440.6 102.2,440.7 102.6,440.9 102.9,441.6 103.3,441.3 103.6,441.7 104.0,441.6 104.3,442.1 104.7,442.2 105.0,441.8 105.4,441.4 105.7,440.8 106.1,440.9 106.4,441.4 106.8,441.8 107.1,442.2 107.5,442.2 107.8,441.5 108.2,441.4 108.5,441.3 108.9,441.7 109.2,441.4 109.6,441.0 109.9,441.5 110.3,441.9 110.6,441.7 111.0,441.7 111.3,441.4 111.7,441.7 112.0,442.1 112.4,442.1 112.7,442.4 113.1,441.6 113.4,441.7 113.8,442.2 114.1,442.1 114.5,442.8 114.8,442.2 115.2,442.7 115.5,442.1 115.9,441.9 116.2,441.4 116.6,441.5 116.9,441.7 117.3,441.8 117.6,441.3 118.0,440.9 118.3,441.1 118.7,441.3 119.0,441.7 119.4,441.9 119.7,441.6 120.1,440.9 120.4,440.2 120.8,440.8 121.1,441.3 121.5,441.9 121.8,441.7 122.2,441.9 122.5,441.3 122.9,440.7 123.2,440.4 123.6,441.3 123.6,441.0 123.9,441.8 124.3,441.8 124.6,442.3 125.0,442.8 125.3,442.9 125.7,444.0 126.0,444.4 126.1,444.4 126.4,445.5 126.7,445.5 127.1,446.2 127.4,446.6 127.4,446.2 127.8,451.4 128.1,457.3" fill="none" stroke="#0072BD" stroke-width="0.65" stroke-linejoin="round" />
<polyline points="127.8,451.4 128.1,457.3 128.4,461.3 128.5,459.5 128.8,447.6 129.1,438.5 129.2,432.4 129.5,389.3 129.6,376.2 129.9,410.5 130.1,447.2 130.2,457.6 130.6,494.8 130.6,500.5 130.9,460.6 131.1,436.0 131.3,426.7 131.5,410.0 131.6,414.6 132.0,432.3 132.1,438.5 132.3,436.6 132.7,433.7 132.7,433.5 133.0,435.8 133.3,437.3 133.4,437.5 133.7,436.1 133.9,435.4 134.1,437.8 134.4,442.4 134.5,444.7 134.8,451.2 135.1,460.0 135.5,468.8 135.5,470.0 135.8,459.0 136.2,444.7 136.3,438.5 136.5,438.6 136.9,436.7 137.1,436.0 137.2,437.9 137.6,440.3 137.9,442.5 138.3,446.6 138.6,448.5 138.6,449.3 139.0,445.3 139.3,443.9 139.7,440.6 140.0,437.8 140.4,435.8 140.5,434.2 140.7,435.7 141.1,435.2 141.4,437.4 141.8,438.0 142.0,439.1 142.1,439.6 142.5,439.3 142.8,440.5 143.2,440.8 143.5,440.9" fill="none" stroke="#0072BD" stroke-width="0.55" stroke-linejoin="round" stroke-opacity="0.85"/>
<polyline points="143.2,440.8 143.5,440.9 143.9,441.0 144.2,441.3 144.6,441.5 144.9,441.4 145.3,442.2 145.3,441.9 145.6,441.5 146.0,441.7 146.3,441.9 146.7,441.7 147.0,441.6 147.4,440.8 147.7,441.2 148.1,441.3 148.4,441.8 148.8,442.1 149.1,441.3 149.5,441.9 149.8,441.8 150.2,442.7 150.5,442.5 150.9,442.0 151.2,442.0 151.6,441.5 151.9,441.6 152.3,441.4 152.6,441.4 153.0,441.5 153.3,441.4 153.7,441.2 154.0,441.2 154.4,441.5 154.7,441.9 155.1,441.7 155.4,441.7 155.8,441.7 156.1,442.2 156.5,441.5 156.8,441.8 157.2,440.8 157.5,441.1 157.9,440.4 158.2,440.9 158.6,441.0 158.9,441.2 159.3,441.1 159.6,441.0 160.0,440.6 160.3,441.1 160.7,441.2 161.0,441.2 161.4,440.4 161.7,440.9 162.1,441.3 162.4,441.6 162.8,441.2 163.1,442.1 163.5,441.9 163.8,442.5 164.2,441.0 164.5,441.1 164.9,440.6 165.2,441.1 165.6,441.3 165.9,441.4 166.3,441.6 166.6,441.6 167.0,441.7 167.3,441.4 167.7,441.2 168.0,440.6 168.4,440.4 168.7,440.4 169.1,440.5 169.4,440.4 169.8,440.8 170.1,440.9 170.5,440.9 170.8,440.3 171.2,440.5 171.5,441.4 171.9,441.4 172.2,440.9 172.6,439.8 172.9,440.2 173.3,440.5 173.6,441.3 174.0,441.9 174.3,441.5 174.7,441.0 175.0,440.6 175.4,441.4 175.7,441.9 176.0,441.0 176.1,440.6 176.4,441.7 176.8,441.3 177.1,441.3 177.5,441.4 177.8,443.6 178.2,442.1 178.5,443.2 178.5,444.1 178.9,442.9 179.2,444.1 179.6,444.3 179.8,444.7 179.9,446.3 180.3,449.3 180.6,453.4" fill="none" stroke="#0072BD" stroke-width="0.65" stroke-linejoin="round" />
<polyline points="180.3,449.3 180.6,453.4 180.8,455.9 181.0,452.5 181.3,443.8 181.5,438.5 181.7,425.0 182.0,394.9 182.0,394.4 182.4,431.2 182.5,447.2 182.7,466.8 183.0,495.8 183.1,489.8 183.4,447.5 183.5,436.0 183.8,423.5 183.9,416.7 184.1,423.4 184.5,436.6 184.5,438.5 184.8,436.4 185.1,433.5 185.2,433.7 185.5,435.8 185.7,437.3 185.9,437.1 186.2,435.5 186.3,435.4 186.6,439.7 186.9,444.7 186.9,444.6 187.3,453.5 187.6,460.7 187.9,469.0 188.0,466.5 188.3,453.6 188.7,441.1 188.7,438.5 188.8,428.5 188.9,448.5 189.0,438.2 189.4,436.1 189.5,436.0 189.7,435.0 190.1,437.2 190.3,439.1 190.4,440.0 190.8,440.1 191.1,439.5 191.5,439.9 191.8,440.6 192.2,440.5 192.5,439.9 192.9,440.7 193.2,440.4 193.6,440.1" fill="none" stroke="#0072BD" stroke-width="0.55" stroke-linejoin="round" stroke-opacity="0.85"/>
<polyline points="193.2,440.4 193.6,440.1 193.9,440.9 194.3,441.2 194.6,441.7 195.0,441.0 195.3,442.5 195.5,441.9 195.7,442.3 196.0,442.1 196.4,442.5 196.7,442.2 197.1,441.5 197.4,441.5 197.8,441.0 198.1,441.6 198.5,440.7 198.8,441.6 199.2,440.9 199.5,441.5 199.9,441.2 200.2,441.3 200.6,441.4 200.9,442.2 201.3,442.7 201.6,442.5 202.0,442.1 202.3,442.3 202.7,442.6 203.0,441.8 203.4,441.1 203.7,441.1 204.1,441.6 204.4,442.1 204.8,441.3 205.1,441.5 205.5,440.9 205.8,441.2 206.2,441.2 206.5,441.8 206.9,442.0 207.2,441.0 207.6,440.9 207.9,440.9 208.3,441.6 208.6,441.1 209.0,441.3 209.3,441.9 209.7,441.9 210.0,441.4 210.4,441.0 210.7,441.5 211.1,441.3 211.4,442.0 211.8,441.6 212.1,442.0 212.5,440.9 212.8,441.3 213.2,440.3 213.5,440.7 213.9,440.3 214.2,442.2 214.6,442.0 214.9,442.1 215.3,441.7 215.6,442.4 216.0,442.6 216.3,441.8 216.7,440.7 217.0,441.0 217.4,441.2 217.7,442.1 218.1,441.3 218.4,441.6 218.8,440.7 219.1,441.3 219.5,441.3 219.8,441.2 220.2,441.4 220.5,440.8 220.9,441.5 221.2,441.5 221.6,442.2 221.9,441.7 222.3,441.4 222.6,441.3 223.0,442.1 223.3,441.7 223.7,441.3 224.0,440.7 224.4,440.8 224.7,442.2 225.1,442.5 225.4,442.7 225.8,441.6 226.1,441.6 226.5,441.6 226.8,441.8 227.2,441.9 227.5,442.4 227.9,442.1 228.2,442.1 228.5,441.0 228.6,441.6 228.9,441.6 229.3,442.7 229.6,442.0 230.0,443.3 230.3,443.2 230.7,444.0 231.0,444.4 231.0,444.5 231.4,445.0 231.7,446.6 232.1,446.7 232.3,446.6 232.4,447.9 232.8,450.3 233.1,454.7" fill="none" stroke="#0072BD" stroke-width="0.65" stroke-linejoin="round" />
<polyline points="232.8,450.3 233.1,454.7 233.3,457.2 233.5,452.8 233.8,444.4 234.0,438.5 234.2,421.7 234.5,384.0 234.5,383.4 234.9,427.9 235.0,447.2 235.2,466.3 235.5,498.3 235.6,492.7 235.9,449.0 236.0,436.0 236.3,423.3 236.4,415.5 236.6,423.6 237.0,436.6 237.0,438.5 237.3,435.8 237.6,433.5 237.7,433.8 238.0,436.0 238.2,437.3 238.4,436.6 238.7,435.3 238.8,435.4 239.1,439.6 239.4,444.7 239.4,445.1 239.8,451.5 240.1,459.7 240.5,467.3 240.6,470.0 240.8,462.0 241.2,448.5 241.4,438.5 241.5,438.1 241.9,437.1 242.2,436.0 242.2,435.7 242.3,448.5 242.6,440.9 242.8,434.2 242.9,434.9 243.3,436.3 243.6,436.0 244.0,438.3 244.3,439.1 244.3,439.9 244.7,440.4 245.0,439.8 245.4,440.5" fill="none" stroke="#0072BD" stroke-width="0.55" stroke-linejoin="round" stroke-opacity="0.85"/>
<polyline points="245.0,439.8 245.4,440.5 245.7,441.4 246.1,441.3 246.4,441.7 246.8,441.0 247.1,441.7 247.2,441.9 247.5,441.8 247.8,442.4 248.2,441.5 248.5,441.7 248.9,441.1 249.2,441.4 249.6,440.9 249.9,440.9 250.3,441.3 250.6,441.4 251.0,441.6 251.3,442.3 251.7,442.0 252.0,442.1 252.4,441.5 252.7,442.0 253.1,442.3 253.4,442.5 253.8,443.0 254.1,442.3 254.5,441.6 254.8,440.9 255.2,441.5 255.5,441.4 255.9,441.6 256.2,441.7 256.6,442.8 256.9,442.6 257.3,441.6 257.6,441.1 258.0,441.4 258.3,441.9 258.7,442.1 259.0,442.1 259.4,441.9 259.7,441.8 260.1,441.3 260.4,441.8 260.8,441.3 261.1,441.5 261.5,441.3 261.8,441.6 262.2,441.8 262.5,441.2 262.9,441.3 263.2,440.8 263.6,441.0 263.9,440.9 264.3,440.7 264.6,441.9 265.0,441.7 265.3,442.2 265.7,441.4 266.0,441.2 266.4,441.4 266.7,441.4 267.1,441.3 267.4,441.2 267.8,441.5 268.1,441.7 268.5,441.7 268.8,441.5 269.2,441.5 269.5,441.8 269.9,441.9 270.2,442.2 270.6,442.0 270.9,441.6 271.3,442.0 271.6,441.3 272.0,441.1 272.3,440.7 272.7,441.2 273.0,442.2 273.4,442.0 273.7,442.4 274.1,441.4 274.4,442.1 274.8,441.4 275.1,441.8 275.5,441.4 275.8,441.2 276.2,440.7 276.5,441.1 276.9,441.9 277.1,441.0 277.2,441.1 277.6,442.2 277.9,442.1 278.3,442.1 278.6,442.7 279.0,442.7 279.3,443.6 279.6,444.0 279.7,443.7 280.0,444.4 280.4,445.4 280.7,445.0 280.9,446.0 281.1,447.7 281.4,451.8 281.8,457.1" fill="none" stroke="#0072BD" stroke-width="0.65" stroke-linejoin="round" />
<polyline points="281.4,451.8 281.8,457.1 281.9,458.4 282.1,453.3 282.5,442.9 282.6,438.5 282.8,416.0 283.1,381.2 283.2,387.5 283.5,433.8 283.6,447.2 283.9,477.0 284.1,508.0 284.2,493.3 284.6,443.8 284.6,436.0 284.9,412.8 285.0,405.7 285.3,419.7 285.6,438.5 285.6,438.9 286.0,435.6 286.2,433.5 286.3,434.2 286.7,435.8 286.8,437.3 287.0,435.2 287.4,435.3 287.4,435.4 287.7,439.3 288.0,444.7 288.1,446.3 288.4,455.9 288.8,466.2 289.0,473.0 289.1,468.9 289.5,452.9 289.8,438.5 289.8,438.3 290.2,437.2 290.5,436.7 290.6,436.0 290.9,437.6 291.2,441.9 291.6,445.5 291.9,448.5 291.9,448.5 292.3,444.9 292.6,441.7 293.0,438.1 293.3,436.2 293.6,432.9 293.7,433.3 294.0,433.8 294.4,434.9 294.7,437.8 295.1,439.0 295.1,439.1 295.4,440.3" fill="none" stroke="#0072BD" stroke-width="0.55" stroke-linejoin="round" stroke-opacity="0.85"/>
<polyline points="295.1,439.1 295.4,440.3 295.8,440.5 296.1,441.0 296.5,441.1 296.8,442.1 297.1,441.9 297.2,441.1 297.5,441.5 297.9,441.2 298.2,441.6 298.6,441.9 298.9,442.1 299.3,441.3 299.6,441.4 300.0,441.9 300.3,442.2 300.7,441.3 301.0,441.0 301.4,441.8 301.7,441.9 302.1,441.9 302.4,441.3 302.8,442.0 303.1,441.6 303.5,441.4 303.8,440.9 304.2,441.2 304.5,441.1 304.9,441.0 305.2,440.5 305.6,441.0 305.9,441.3 306.3,442.0 306.6,441.1 307.0,441.2 307.3,441.6 307.7,442.1 308.0,442.3 308.4,442.0 308.7,442.1 309.1,442.3 309.4,442.7 309.8,441.9 310.1,441.5 310.5,441.2 310.8,441.6 311.2,441.2 311.5,441.4 311.9,441.8 312.2,442.1 312.6,441.8 312.9,441.5 313.3,442.0 313.6,441.8" fill="none" stroke="#0072BD" stroke-width="0.65" stroke-linejoin="round" />
<path d="M73.50 384.08H77.70L75.60 387.48Z" fill="#0072BD"/>
<path d="M127.50 374.74H131.70L129.60 378.14Z" fill="#0072BD"/>
<path d="M179.90 393.42H184.10L182.00 396.82Z" fill="#0072BD"/>
<path d="M232.40 382.53H236.60L234.50 385.93Z" fill="#0072BD"/>
<path d="M281.00 379.72H285.20L283.10 383.12Z" fill="#0072BD"/>
<polyline points="385.1,442.4 385.2,441.6 385.3,442.2 385.5,443.0 385.6,443.9 385.7,442.3 385.8,442.1 385.9,443.5 386.1,442.3 386.2,443.9 386.3,443.6 386.4,442.7 386.5,443.7 386.7,442.4 386.8,442.0 386.9,442.8 387.0,442.5 387.1,441.8 387.3,442.5 387.4,442.0 387.5,441.9 387.6,443.5 387.7,441.6 387.9,442.1 388.0,442.7 388.1,442.3 388.2,442.6 388.3,442.7 388.5,443.4 388.6,443.1 388.7,443.0 388.8,442.1 388.9,442.5 389.1,442.6 389.2,442.9 389.3,442.0 389.4,444.0 389.5,443.4 389.7,442.2 389.8,443.1 389.9,442.4 390.0,441.8 390.1,442.3 390.3,443.7 390.4,442.9 390.5,443.5 390.6,442.5 390.7,442.2 390.9,443.0 391.0,442.5 391.1,442.9 391.2,441.6 391.3,442.7 391.5,442.7 391.6,442.5 391.7,442.2 391.8,442.4 391.9,442.8 392.1,442.8 392.2,442.5 392.3,442.4 392.4,443.0 392.5,443.2 392.7,442.9 392.8,442.5 392.9,443.1 393.0,443.5 393.1,443.0 393.3,443.1 393.4,442.4 393.5,443.1 393.6,443.0 393.7,441.7 393.9,442.5 394.0,443.4 394.1,442.1 394.2,443.0 394.3,443.3 394.5,442.4 394.6,443.7 394.7,442.8 394.8,442.5 394.9,442.3 395.1,443.1 395.2,443.1 395.3,442.9 395.4,442.1 395.5,443.9 395.7,442.3 395.8,442.6 395.9,442.0 396.0,443.5 396.1,442.1 396.3,443.3 396.4,442.6 396.5,443.0 396.6,444.0 396.7,442.8 396.9,442.6 397.0,442.3 397.1,443.2 397.2,443.5 397.3,442.4 397.5,443.0 397.6,442.2 397.7,441.9 397.8,442.9 397.9,442.9 398.1,443.2 398.2,444.0 398.3,442.8 398.4,442.4 398.5,442.1 398.7,442.8 398.8,441.7 398.9,443.1 399.0,442.8 399.1,443.1 399.3,443.1 399.4,443.0 399.5,443.2 399.6,443.0 399.7,442.6 399.9,442.7 400.0,443.4 400.1,442.5 400.2,443.3 400.3,442.5 400.5,442.7 400.6,444.0 400.7,443.4 400.8,442.2 400.9,443.2 401.1,443.2 401.2,443.1 401.3,442.7 401.4,442.4 401.5,443.0 401.7,441.8 401.8,443.1 401.9,443.1 402.0,442.9 402.1,442.7 402.3,441.9 402.4,441.6 402.5,441.6 402.6,442.9 402.7,443.3 402.9,444.4 403.0,442.3 403.1,443.6 403.2,442.1 403.3,441.6 403.5,442.8 403.6,444.4 403.7,443.9 403.8,441.2 403.9,442.5 404.1,441.2 404.2,444.4 404.3,443.0 404.4,443.0 404.5,444.4 404.7,443.6 404.8,441.7 404.9,443.5" fill="none" stroke="#0072BD" stroke-width="0.5" stroke-linejoin="round" />
<polyline points="404.8,441.7 404.9,443.5 405.0,443.9 405.1,437.8 405.3,441.1 405.4,441.7 405.5,447.8 405.6,441.5 405.7,442.9 405.9,443.4 406.0,440.1 406.1,428.2 406.2,444.4 406.3,451.6 406.5,445.7 406.6,445.4 406.7,436.1 406.8,433.5 406.9,439.8 407.1,443.1 407.2,443.3 407.3,446.1 407.4,443.9 407.5,441.0 407.7,447.1 407.8,438.5 407.9,444.1 408.0,436.9 408.1,437.7 408.3,438.7 408.4,444.5 408.5,433.0 408.6,442.7 408.7,449.7 408.9,443.8 409.0,454.3 409.1,435.0 409.2,423.0 409.3,445.0 409.5,443.2 409.6,449.7 409.7,424.7 409.8,430.7 409.9,451.1 410.1,444.7 410.2,445.9 410.3,440.1 410.4,445.2 410.5,428.5 410.7,448.6 410.8,433.5 410.9,456.8 411.0,445.0 411.1,440.3 411.3,440.5 411.4,442.1 411.5,444.5 411.6,445.8 411.7,440.4 411.9,451.7 412.0,431.2 412.1,443.6 412.2,443.4 412.3,430.6 412.5,437.1 412.6,449.5 412.7,447.6 412.8,440.7 412.9,443.9 413.1,439.5 413.2,443.9 413.3,444.2 413.4,442.2 413.5,446.9 413.7,445.7 413.8,444.9 413.9,443.5 414.0,442.9 414.1,443.0 414.3,439.2 414.4,443.4" fill="none" stroke="#0072BD" stroke-width="0.5" stroke-linejoin="round" stroke-opacity="0.65"/>
<polyline points="414.3,439.2 414.4,443.4 414.5,444.6 414.6,444.2 414.7,441.7 414.9,444.1 415.0,444.4 415.1,443.7 415.2,441.3 415.3,442.8 415.5,442.6 415.6,442.7 415.7,442.9 415.8,443.0 415.9,444.4 416.1,441.2 416.2,443.0 416.3,441.4 416.4,444.4 416.5,442.2 416.7,444.2 416.8,444.3 416.9,442.5 417.0,441.6 417.1,441.2 417.3,441.3 417.4,443.1 417.5,441.9 417.6,443.5 417.7,443.5 417.9,442.5 418.0,443.0 418.1,441.8 418.2,444.4 418.3,441.5 418.5,443.5 418.6,441.2 418.7,441.5 418.8,444.2 418.9,442.9 419.1,442.0 419.2,443.7 419.3,443.7 419.4,443.2 419.5,442.0 419.7,441.8 419.8,443.3 419.9,441.9 420.0,441.2 420.1,441.8 420.3,443.7 420.4,443.8 420.5,442.5 420.6,441.9 420.7,442.3 420.9,443.3 421.0,443.9 421.1,441.3 421.2,443.0 421.3,441.2 421.5,444.1 421.6,443.2 421.7,443.6 421.8,441.2 421.9,441.4 422.1,443.4 422.2,444.4 422.3,441.5 422.4,442.7 422.5,444.1 422.7,444.4 422.8,442.3 422.9,443.0 423.0,442.6 423.1,442.4 423.3,443.2 423.4,443.1 423.5,442.0 423.6,442.9 423.7,443.1 423.9,442.1 424.0,444.4 424.1,441.4 424.2,442.3 424.3,443.7 424.5,443.0 424.6,441.4 424.7,442.2 424.8,444.4 424.9,444.0 425.1,442.6 425.2,441.2 425.3,441.9 425.4,443.0 425.5,442.1 425.7,442.8 425.8,443.2 425.9,442.4 426.0,444.4 426.1,441.6 426.3,442.2 426.4,443.3 426.5,443.8 426.6,444.2 426.7,442.5 426.9,442.6 427.0,442.6 427.1,441.2 427.2,444.4 427.3,443.6 427.5,443.7 427.6,441.7 427.7,443.1 427.8,443.9 427.9,442.6 428.1,442.3 428.2,441.2 428.3,442.5 428.4,443.3 428.5,443.4 428.7,443.7 428.8,442.2 428.9,441.9 429.0,443.1 429.1,443.0 429.3,441.2 429.4,442.7 429.5,442.2 429.6,444.1 429.7,443.5 429.9,444.4 430.0,444.4 430.1,442.4 430.2,441.4 430.3,443.1 430.5,444.2 430.6,442.7 430.7,441.5 430.8,443.0 430.9,441.7 431.1,442.9 431.2,444.2 431.3,443.8 431.4,443.1 431.5,441.2 431.7,442.1 431.8,443.1 431.9,442.5 432.0,442.6 432.1,443.3 432.3,442.9 432.4,443.1 432.5,441.9 432.6,441.2 432.7,441.3 432.9,443.2 433.0,442.2 433.1,443.6 433.2,444.1 433.3,442.7 433.5,442.1 433.6,442.9 433.7,441.8 433.8,441.8 433.9,441.9 434.1,443.0 434.2,444.4 434.3,441.2 434.4,443.3 434.5,442.0 434.7,442.2 434.8,443.2 434.9,441.2 435.0,442.0 435.1,442.8 435.3,443.3 435.4,443.9 435.5,444.3 435.6,442.1 435.7,443.3 435.9,443.3 436.0,442.2 436.1,443.2 436.2,442.0 436.3,443.5 436.5,443.4 436.6,441.7 436.7,443.6 436.8,442.1 436.9,442.2 437.1,442.8 437.2,444.4 437.3,444.3 437.4,444.1 437.5,444.3 437.7,441.8 437.8,443.8 437.9,444.2 438.0,443.4 438.1,442.9 438.3,444.4 438.4,442.1 438.5,442.0 438.6,443.5 438.7,441.9 438.9,444.4 439.0,443.4 439.1,443.0 439.2,442.7 439.3,441.5 439.5,443.2 439.6,444.0 439.7,442.6 439.8,442.6 439.9,442.3 440.1,443.2 440.2,442.6 440.3,443.5 440.4,442.2 440.5,443.6 440.7,443.5 440.8,441.5 440.9,443.7 441.0,442.8 441.1,442.1 441.3,443.2 441.4,441.8 441.5,443.5 441.6,441.6 441.7,444.4 441.9,444.4 442.0,442.7 442.1,441.2 442.2,441.2 442.3,443.8 442.5,442.8 442.6,443.4 442.7,444.4 442.8,442.0 442.9,443.2 443.1,441.2 443.2,442.5 443.3,443.4 443.4,443.6 443.5,443.0 443.7,442.3 443.8,443.4 443.9,441.2 444.0,442.6 444.1,444.1 444.3,442.7 444.4,441.5 444.5,442.3 444.6,443.2 444.7,443.6 444.9,443.7 445.0,444.2 445.1,443.4 445.2,442.5 445.3,443.5 445.5,441.2 445.6,442.4 445.7,443.3 445.8,442.8 445.9,441.2 446.1,444.4 446.2,442.5 446.3,441.2 446.4,441.7 446.5,443.8 446.7,442.7 446.8,443.1 446.9,441.2 447.0,443.6 447.1,443.1 447.3,443.2 447.4,444.4 447.5,444.4 447.6,443.1 447.7,442.2 447.9,443.3 448.0,442.2 448.1,441.9 448.2,442.0 448.3,444.4 448.5,441.2 448.6,441.8 448.7,441.9 448.8,442.8 448.9,442.8 449.1,443.4 449.2,442.3 449.3,441.7 449.4,443.5 449.5,441.9 449.7,443.3 449.8,442.1 449.9,443.0 450.0,441.8 450.1,441.2 450.3,442.5 450.4,443.4 450.5,443.3 450.6,442.1 450.7,443.4 450.9,441.7 451.0,442.5 451.1,441.8 451.2,443.4 451.3,443.9 451.5,443.7 451.6,442.3 451.7,443.7 451.8,442.0 451.9,444.4 452.1,443.6 452.2,443.0 452.3,444.4 452.4,443.5 452.5,444.4 452.7,442.9 452.8,443.1 452.9,441.9 453.0,443.8 453.1,444.4 453.3,443.4 453.4,442.6 453.5,442.7 453.6,442.6 453.7,441.4 453.9,443.2 454.0,443.0 454.1,443.8 454.2,443.5 454.3,441.6 454.5,442.4 454.6,444.4 454.7,441.4 454.8,444.4 454.9,443.3 455.1,441.7 455.2,442.6 455.3,442.2 455.4,441.8 455.5,442.5 455.7,444.2 455.8,442.4 455.9,443.6 456.0,444.4 456.1,443.1 456.3,442.2 456.4,442.7 456.5,442.8 456.6,441.2 456.7,442.5 456.9,441.7 457.0,442.4 457.1,441.2 457.2,443.2 457.3,441.4 457.5,441.2 457.6,443.2 457.7,441.6 457.8,444.3 457.9,442.4 458.1,441.9 458.2,443.7 458.3,444.4 458.4,442.7 458.5,443.2 458.7,442.6 458.8,442.4 458.9,441.8 459.0,441.2 459.1,442.3 459.3,444.4 459.4,442.0 459.5,442.2" fill="none" stroke="#0072BD" stroke-width="0.5" stroke-linejoin="round" />
<polyline points="459.4,442.0 459.5,442.2 459.6,442.9 459.7,441.1 459.9,444.1 460.0,442.7 460.1,446.0 460.2,441.7 460.3,447.0 460.5,443.9 460.6,442.6 460.7,443.3 460.8,443.6 460.9,438.4 461.1,441.6 461.2,450.8 461.3,451.0 461.4,454.2 461.5,447.4 461.7,439.7 461.8,442.6 461.9,440.7 462.0,443.2 462.1,439.3 462.3,443.2 462.4,446.8 462.5,441.0 462.6,442.9 462.7,445.9 462.9,440.7 463.0,441.6 463.1,464.7 463.2,440.9 463.3,440.8 463.5,443.1 463.6,438.1 463.7,450.5 463.8,432.3 463.9,439.7 464.1,449.6 464.2,434.2 464.3,463.6 464.4,460.2 464.5,440.7 464.7,448.3 464.8,437.8 464.9,438.0 465.0,442.7 465.1,449.6 465.3,444.8 465.4,446.0 465.5,465.0 465.6,443.5 465.7,440.8 465.9,437.6 466.0,440.7 466.1,448.6 466.2,441.2 466.3,444.5 466.5,438.3 466.6,441.9 466.7,437.1 466.8,442.4 466.9,442.7 467.1,436.1 467.2,449.7 467.3,437.2 467.4,442.0 467.5,454.1 467.7,443.8 467.8,442.6 467.9,442.6 468.0,445.1 468.1,442.3 468.3,443.6 468.4,444.8 468.5,441.4 468.6,447.1 468.7,440.9 468.9,440.9 469.0,444.2 469.1,442.9" fill="none" stroke="#0072BD" stroke-width="0.5" stroke-linejoin="round" stroke-opacity="0.65"/>
<polyline points="469.0,444.2 469.1,442.9 469.2,442.6 469.3,442.7 469.5,444.1 469.6,441.9 469.7,441.9 469.8,442.4 469.9,443.7 470.1,442.0 470.2,443.4 470.3,441.3 470.4,443.5 470.5,443.4 470.7,443.1 470.8,444.0 470.9,443.8 471.0,443.1 471.1,444.4 471.3,441.2 471.4,442.3 471.5,442.4 471.6,443.8 471.7,442.6 471.9,442.8 472.0,442.7 472.1,444.4 472.2,442.9 472.3,444.4 472.5,443.0 472.6,443.8 472.7,443.5 472.8,443.2 472.9,441.8 473.1,441.4 473.2,442.7 473.3,444.0 473.4,441.2 473.5,444.4 473.7,443.4 473.8,443.0 473.9,443.6 474.0,441.2 474.1,442.3 474.3,441.5 474.4,443.1 474.5,441.8 474.6,443.0 474.7,443.0 474.9,442.4 475.0,442.3 475.1,442.1 475.2,443.0 475.3,444.4 475.5,443.2 475.6,444.4 475.7,443.1 475.8,443.7 475.9,441.8 476.1,444.4 476.2,441.2 476.3,443.2 476.4,444.4 476.5,442.3 476.7,442.2 476.8,442.3 476.9,441.2 477.0,443.8 477.1,442.5 477.3,442.6 477.4,443.6 477.5,442.5 477.6,441.3 477.7,443.8 477.9,442.3 478.0,441.6 478.1,442.0 478.2,444.4 478.3,442.5 478.5,443.2 478.6,441.4 478.7,442.9 478.8,441.2 478.9,444.2 479.1,442.2 479.2,443.8 479.3,441.2 479.4,441.2 479.5,443.9 479.7,441.9 479.8,442.8 479.9,444.4 480.0,444.0 480.1,442.7 480.3,442.2 480.4,443.2 480.5,442.5 480.6,442.4 480.7,442.5 480.9,444.2 481.0,442.6 481.1,442.2 481.2,444.4 481.3,441.2 481.5,441.2 481.6,442.6 481.7,441.2 481.8,443.7 481.9,443.9 482.1,443.5 482.2,443.6 482.3,441.2 482.4,442.7 482.5,442.9 482.7,442.4 482.8,441.2 482.9,442.6 483.0,443.2 483.1,442.5 483.3,441.3 483.4,443.0 483.5,441.2 483.6,442.4 483.7,443.0 483.9,442.2 484.0,441.2 484.1,443.1 484.2,441.2 484.3,442.1 484.5,442.6 484.6,442.7 484.7,441.8 484.8,442.1 484.9,442.4 485.1,442.0 485.2,443.8 485.3,443.5 485.4,443.9 485.5,443.2 485.7,443.0 485.8,443.2 485.9,442.2 486.0,443.9 486.1,443.1 486.3,441.8 486.4,441.2 486.5,442.7 486.6,441.4 486.7,441.2 486.9,444.0 487.0,442.5 487.1,444.0 487.2,443.2 487.3,442.3 487.5,444.3 487.6,442.2 487.7,443.0 487.8,443.1 487.9,442.2 488.1,443.7 488.2,444.4 488.3,442.8 488.4,443.6 488.5,443.0 488.7,444.1 488.8,443.9 488.9,444.0 489.0,444.3 489.1,443.7 489.3,443.7 489.4,442.8 489.5,441.2 489.6,443.5 489.7,444.4 489.9,442.1 490.0,444.2 490.1,443.8 490.2,443.2 490.3,442.8 490.5,442.7 490.6,442.5 490.7,442.9 490.8,441.5 490.9,441.8 491.1,443.4 491.2,443.1 491.3,444.4 491.4,442.1 491.5,443.0 491.7,441.2 491.8,443.6 491.9,441.2 492.0,443.9 492.1,444.4 492.3,443.8 492.4,442.4 492.5,441.7 492.6,443.8 492.7,441.7 492.9,443.4 493.0,443.4 493.1,443.2 493.2,441.2 493.3,442.6 493.5,442.5 493.6,444.4 493.7,442.6 493.8,442.5 493.9,441.2 494.1,443.8 494.2,443.6 494.3,443.9 494.4,443.6 494.5,442.1 494.7,443.7 494.8,441.4 494.9,442.8 495.0,443.9 495.1,443.6 495.3,444.4 495.4,444.4 495.5,441.5 495.6,441.8 495.7,443.9 495.9,443.3 496.0,441.2 496.1,443.7 496.2,442.6 496.3,442.2 496.5,443.1 496.6,443.0 496.7,443.2 496.8,442.7 496.9,444.4 497.1,442.8 497.2,442.6 497.3,444.3 497.4,442.3 497.5,443.9 497.7,444.4 497.8,444.4 497.9,442.7 498.0,442.2 498.1,443.3 498.3,444.4 498.4,443.0 498.5,441.8 498.6,442.9 498.7,444.4 498.9,442.3 499.0,443.1 499.1,443.0 499.2,442.8 499.3,442.2 499.5,443.0 499.6,443.9 499.7,443.0 499.8,442.7 499.9,441.5 500.1,444.2 500.2,443.0 500.3,443.8 500.4,442.5 500.5,443.5 500.7,444.4 500.8,441.8 500.9,443.6 501.0,444.1 501.1,444.4 501.3,444.1 501.4,444.3 501.5,443.0 501.6,442.7 501.7,442.9 501.9,442.4 502.0,443.8 502.1,442.2 502.2,443.0 502.3,442.3 502.5,442.1 502.6,443.3 502.7,441.4 502.8,441.9 502.9,443.3 503.1,441.2 503.2,441.2 503.3,444.4 503.4,444.4 503.5,443.6 503.7,442.3 503.8,441.8 503.9,442.1 504.0,442.9 504.1,441.7 504.3,442.0 504.4,443.3 504.5,442.6 504.6,441.6 504.7,443.6 504.9,443.6 505.0,443.8 505.1,441.2 505.2,442.1 505.3,441.9 505.5,443.3 505.6,442.9 505.7,441.5 505.8,443.2 505.9,441.5 506.1,442.9 506.2,442.9 506.3,442.2 506.4,441.9 506.5,441.2 506.7,443.2 506.8,441.2 506.9,443.7 507.0,443.8 507.1,444.4 507.3,441.9 507.4,441.2 507.5,444.2 507.6,443.2 507.7,443.1 507.9,444.4 508.0,442.7 508.1,442.5 508.2,443.4 508.3,444.0 508.5,442.7 508.6,442.1 508.7,444.4 508.8,442.9 508.9,442.2 509.1,444.4 509.2,442.5 509.3,441.2 509.4,444.3 509.5,441.3 509.7,443.2 509.8,442.1 509.9,443.0 510.0,444.1 510.1,444.4 510.3,441.2 510.4,444.3 510.5,443.1 510.6,441.2 510.7,442.5 510.9,442.6 511.0,444.4 511.1,443.5 511.2,444.3 511.3,444.4 511.5,442.4 511.6,441.9 511.7,443.7 511.8,443.6 511.9,442.3 512.1,441.0" fill="none" stroke="#0072BD" stroke-width="0.5" stroke-linejoin="round" />
<polyline points="511.9,442.3 512.1,441.0 512.2,443.6 512.3,441.3 512.4,442.8 512.5,441.5 512.7,440.7 512.8,444.5 512.9,446.2 513.0,439.3 513.1,445.4 513.3,443.7 513.4,440.9 513.5,442.9 513.6,442.3 513.7,444.2 513.9,443.5 514.0,447.9 514.1,446.0 514.2,442.8 514.3,447.7 514.5,446.1 514.6,446.9 514.7,443.1 514.8,438.0 514.9,443.2 515.1,441.2 515.2,442.7 515.3,452.8 515.4,450.5 515.5,447.9 515.7,441.5 515.8,445.1 515.9,433.5 516.0,444.6 516.1,440.5 516.3,445.8 516.4,443.7 516.5,449.3 516.6,442.5 516.7,440.9 516.9,443.2 517.0,443.0 517.1,456.6 517.2,440.5 517.3,441.5 517.5,452.1 517.6,441.5 517.7,443.9 517.8,447.2 517.9,447.1 518.1,435.9 518.2,444.3 518.3,438.8 518.4,445.1 518.5,445.8 518.7,443.5 518.8,447.3 518.9,440.8 519.0,446.0 519.1,441.8 519.3,440.8 519.4,448.3 519.5,442.7 519.6,443.7 519.7,442.3 519.9,439.5 520.0,442.6 520.1,443.5 520.2,444.0 520.3,442.2 520.5,442.4 520.6,443.3" fill="none" stroke="#0072BD" stroke-width="0.5" stroke-linejoin="round" stroke-opacity="0.65"/>
<polyline points="520.5,442.4 520.6,443.3 520.7,442.7 520.8,442.8 520.9,441.6 521.1,443.4 521.2,443.4 521.3,443.9 521.4,444.4 521.5,443.3 521.7,444.4 521.8,443.4 521.9,442.6 522.0,442.6 522.1,442.4 522.3,443.3 522.4,442.9 522.5,441.5 522.6,443.0 522.7,442.8 522.9,444.4 523.0,444.1 523.1,441.5 523.2,443.8 523.3,444.1 523.5,441.7 523.6,444.2 523.7,441.7 523.8,442.9 523.9,443.5 524.1,444.4 524.2,441.3 524.3,444.4 524.4,444.2 524.5,441.9 524.7,444.3 524.8,442.2 524.9,442.9 525.0,443.1 525.1,444.1 525.3,443.6 525.4,442.5 525.5,444.0 525.6,442.1 525.7,442.5 525.9,442.2 526.0,442.6 526.1,442.2 526.2,442.4 526.3,441.9 526.5,442.4 526.6,442.4 526.7,443.9 526.8,444.4 526.9,442.8 527.1,441.7 527.2,443.9 527.3,444.4 527.4,443.5 527.5,442.4 527.7,441.8 527.8,443.2 527.9,444.2 528.0,442.9 528.1,442.0 528.3,442.9 528.4,441.7 528.5,443.4 528.6,441.8 528.7,441.2 528.9,444.0 529.0,443.8 529.1,442.1 529.2,441.2 529.3,442.2 529.5,442.9 529.6,441.3 529.7,443.0 529.8,444.4 529.9,443.9 530.1,441.3 530.2,444.4 530.3,444.4 530.4,441.9 530.5,442.7 530.7,441.4 530.8,444.1 530.9,443.7 531.0,443.2 531.1,444.3 531.3,443.1 531.4,443.0 531.5,441.8 531.6,442.9 531.7,443.3 531.9,442.3 532.0,441.5 532.1,441.6 532.2,442.5 532.3,443.3 532.5,443.4 532.6,444.3 532.7,442.7 532.8,442.9 532.9,441.2 533.1,442.6 533.2,442.0 533.3,441.3 533.4,444.4 533.5,443.6 533.7,443.1 533.8,442.7 533.9,444.1 534.0,441.8 534.1,441.8 534.3,442.2 534.4,442.0 534.5,444.1 534.6,441.5 534.7,443.5 534.9,444.4 535.0,442.7 535.1,442.3 535.2,443.6 535.3,444.4 535.5,444.2 535.6,443.0 535.7,444.4 535.8,441.6 535.9,441.7 536.1,443.0 536.2,441.6 536.3,443.0 536.4,444.1 536.5,442.1 536.7,442.2 536.8,443.9 536.9,444.4 537.0,444.0 537.1,441.5 537.3,443.2 537.4,441.2 537.5,443.6 537.6,442.1 537.7,442.5 537.9,443.1 538.0,441.9 538.1,443.8 538.2,442.9 538.3,444.2 538.5,444.4 538.6,442.7 538.7,444.2 538.8,444.3 538.9,442.1 539.1,443.0 539.2,442.4 539.3,441.2 539.4,442.6 539.5,442.3 539.7,444.2 539.8,441.9 539.9,441.8 540.0,444.0 540.1,442.1 540.3,442.5 540.4,443.1 540.5,442.7 540.6,441.2 540.7,443.6 540.9,443.2 541.0,442.7 541.1,443.0 541.2,444.4 541.3,442.1 541.5,441.7 541.6,441.2 541.7,443.5 541.8,444.3 541.9,442.1 542.1,444.0 542.2,442.8 542.3,443.3 542.4,442.6 542.5,443.3 542.7,442.0 542.8,443.9 542.9,441.2 543.0,441.9 543.1,443.6 543.3,443.9 543.4,443.0 543.5,443.4 543.6,443.8 543.7,441.2 543.9,441.7 544.0,444.1 544.1,442.2 544.2,442.8 544.3,441.9 544.5,443.6 544.6,441.2 544.7,442.7 544.8,441.2 544.9,443.4 545.1,441.2 545.2,442.9 545.3,441.2 545.4,443.0 545.5,444.1 545.7,444.1 545.8,443.6 545.9,442.1 546.0,442.4 546.1,442.7 546.3,441.6 546.4,441.2 546.5,444.0 546.6,441.6 546.7,441.2 546.9,443.5 547.0,443.5 547.1,442.3 547.2,442.5 547.3,443.4 547.5,442.9 547.6,441.2 547.7,441.7 547.8,443.8 547.9,444.4 548.1,444.1 548.2,442.6 548.3,443.7 548.4,443.8 548.5,442.0 548.7,443.1 548.8,443.3 548.9,442.6 549.0,441.2 549.1,442.4 549.3,442.0 549.4,442.7 549.5,441.2 549.6,444.2 549.7,444.1 549.9,443.4 550.0,441.2 550.1,441.2 550.2,444.1 550.3,443.3 550.5,442.2 550.6,442.7 550.7,441.8 550.8,443.4 550.9,444.4 551.1,442.1 551.2,441.3 551.3,444.4 551.4,444.4 551.5,443.3 551.7,444.4 551.8,442.3 551.9,444.2 552.0,441.9 552.1,443.2 552.3,442.6 552.4,442.0 552.5,443.0 552.6,444.0 552.7,441.7 552.9,444.4 553.0,441.2 553.1,443.5 553.2,443.4 553.3,442.3 553.5,442.3 553.6,442.2 553.7,444.4 553.8,443.8 553.9,442.4 554.1,442.4 554.2,442.9 554.3,441.3 554.4,443.0 554.5,441.7 554.7,441.5 554.8,442.4 554.9,443.0 555.0,441.9 555.1,442.3 555.3,442.1 555.4,443.8 555.5,442.3 555.6,441.2 555.7,443.1 555.9,442.6 556.0,443.1 556.1,441.8 556.2,444.4 556.3,441.2 556.5,442.2 556.6,443.1 556.7,442.5 556.8,441.5 556.9,442.4 557.1,442.0 557.2,441.4 557.3,442.6 557.4,441.9 557.5,441.2 557.7,442.1 557.8,443.5 557.9,441.9 558.0,441.2 558.1,443.2 558.3,442.3 558.4,442.3 558.5,441.8 558.6,443.3 558.7,442.8 558.9,441.2 559.0,442.0 559.1,443.5 559.2,441.9 559.3,442.7 559.5,441.2 559.6,444.4 559.7,442.7 559.8,441.6 559.9,444.3 560.1,443.6 560.2,442.2 560.3,442.7 560.4,443.1 560.5,442.4 560.7,444.4 560.8,443.8 560.9,441.2 561.0,443.5 561.1,442.3 561.3,442.8 561.4,441.8 561.5,442.4 561.6,442.3 561.7,441.4 561.9,442.4 562.0,444.4 562.1,443.5 562.2,441.2 562.3,441.6 562.5,443.0 562.6,444.4 562.7,443.6 562.8,441.2 562.9,441.4 563.1,441.4 563.2,444.4 563.3,444.3 563.4,443.5 563.5,444.3 563.7,442.6 563.8,444.0 563.9,442.2 564.0,443.0 564.1,443.4 564.3,442.0 564.4,442.3 564.5,442.6 564.6,443.2 564.7,442.8 564.9,444.4 565.0,444.4 565.1,442.2" fill="none" stroke="#0072BD" stroke-width="0.5" stroke-linejoin="round" />
<polyline points="565.0,444.4 565.1,442.2 565.2,444.4 565.3,445.3 565.5,446.8 565.6,442.7 565.7,444.5 565.8,444.2 565.9,440.6 566.1,444.6 566.2,441.7 566.3,453.8 566.4,454.4 566.5,443.7 566.7,441.5 566.8,444.6 566.9,456.1 567.0,459.1 567.1,440.2 567.3,443.3 567.4,432.6 567.5,436.4 567.6,447.0 567.7,442.1 567.9,440.3 568.0,444.6 568.1,442.3 568.2,439.9 568.3,443.0 568.5,445.3 568.6,448.9 568.7,441.2 568.8,442.7 568.9,439.8 569.1,444.0 569.2,444.7 569.3,440.7 569.4,428.8 569.5,461.3 569.7,446.9 569.8,440.5 569.9,457.1 570.0,443.8 570.1,447.4 570.3,440.7 570.4,440.8 570.5,441.0 570.6,442.2 570.7,456.0 570.9,441.2 571.0,456.8 571.1,465.0 571.2,455.5 571.3,449.2 571.5,450.8 571.6,452.5 571.7,442.1 571.8,443.6 571.9,437.8 572.1,434.7 572.2,441.9 572.3,450.4 572.4,442.5 572.5,443.8 572.7,441.5 572.8,452.2 572.9,431.7 573.0,442.0 573.1,440.8 573.3,434.1 573.4,454.5 573.5,445.7 573.6,444.3 573.7,444.0 573.9,448.9 574.0,439.6 574.1,447.9 574.2,442.4 574.3,446.1 574.5,441.4 574.6,442.3 574.7,441.0" fill="none" stroke="#0072BD" stroke-width="0.5" stroke-linejoin="round" stroke-opacity="0.65"/>
<polyline points="574.6,442.3 574.7,441.0 574.8,442.5 574.9,443.6 575.1,444.3 575.2,444.3 575.3,443.4 575.4,442.7 575.5,443.7 575.7,442.8 575.8,443.1 575.9,443.0 576.0,443.3 576.1,442.4 576.3,442.8 576.4,444.4 576.5,442.5 576.6,442.7 576.7,443.5 576.9,442.6 577.0,443.6 577.1,442.6 577.2,443.8 577.3,442.0 577.5,442.4 577.6,444.4 577.7,443.6 577.8,442.0 577.9,442.3 578.1,442.6 578.2,444.1 578.3,443.6 578.4,442.6 578.5,442.4 578.7,442.8 578.8,443.7 578.9,443.0 579.0,443.4 579.1,444.1 579.3,444.0 579.4,443.7 579.5,444.4 579.6,442.3 579.7,441.9 579.9,441.8 580.0,443.7 580.1,443.6 580.2,442.5 580.3,443.3 580.5,443.1 580.6,443.1 580.7,444.4 580.8,441.3 580.9,444.4 581.1,444.4 581.2,441.9 581.3,444.0 581.4,441.6 581.5,442.4 581.7,442.4 581.8,443.2 581.9,444.4 582.0,444.1 582.1,442.7 582.3,442.9 582.4,444.2 582.5,444.1 582.6,443.8 582.7,442.9 582.9,442.3 583.0,441.8 583.1,443.2 583.2,441.2 583.3,442.0 583.5,441.2 583.6,443.8 583.7,442.1 583.8,441.6 583.9,444.4 584.1,441.8 584.2,442.3 584.3,441.8 584.4,442.6 584.5,441.5 584.7,443.3 584.8,443.4 584.9,442.0 585.0,442.0 585.1,444.3 585.3,441.4 585.4,441.5 585.5,441.6 585.6,443.6 585.7,441.4 585.9,442.2 586.0,441.7 586.1,442.9 586.2,443.3 586.3,443.6 586.5,443.5 586.6,441.8 586.7,443.7 586.8,443.5 586.9,442.4 587.1,443.1 587.2,444.4 587.3,443.5 587.4,443.2 587.5,441.2 587.7,442.0 587.8,443.9 587.9,444.0 588.0,443.3 588.1,442.5 588.3,443.7 588.4,442.3 588.5,444.4 588.6,442.4 588.7,441.5 588.9,444.4 589.0,442.8 589.1,442.5 589.2,442.3 589.3,442.7 589.5,442.9 589.6,442.5 589.7,442.7 589.8,442.7 589.9,441.2 590.1,441.6 590.2,441.8 590.3,443.5 590.4,443.3 590.5,441.6 590.7,444.0 590.8,441.6 590.9,444.3 591.0,441.2 591.1,441.4 591.3,443.4 591.4,443.3 591.5,444.4 591.6,442.9 591.7,441.5 591.9,442.1 592.0,443.1 592.1,441.2 592.2,442.2 592.3,442.3 592.5,443.1 592.6,442.1 592.7,441.2 592.8,442.3 592.9,444.4 593.1,442.6 593.2,441.2 593.3,441.5 593.4,443.4 593.5,442.4 593.7,444.4 593.8,442.1 593.9,443.8 594.0,443.4 594.1,443.4 594.3,443.6 594.4,441.2 594.5,441.2 594.6,443.1 594.7,442.7 594.9,441.2 595.0,443.1 595.1,443.3 595.2,443.8 595.3,441.2 595.5,442.6 595.6,442.8 595.7,443.3 595.8,443.8 595.9,441.7 596.1,443.7 596.2,443.4 596.3,444.4 596.4,444.0 596.5,443.4 596.7,443.4 596.8,444.4 596.9,443.5 597.0,443.0 597.1,444.4 597.3,442.2 597.4,443.1 597.5,444.3 597.6,443.1 597.7,442.3 597.9,442.8 598.0,442.8 598.1,442.8 598.2,442.1 598.3,444.3 598.5,443.5 598.6,442.4 598.7,442.8 598.8,444.0 598.9,443.1 599.1,443.6 599.2,442.8 599.3,444.4 599.4,444.4 599.5,444.4 599.7,443.0 599.8,441.2 599.9,441.7 600.0,441.4 600.1,442.8 600.3,441.2 600.4,442.4 600.5,442.7 600.6,441.6 600.7,444.2 600.9,444.4 601.0,444.2 601.1,441.2 601.2,441.8 601.3,442.6 601.5,443.1 601.6,443.0 601.7,442.4 601.8,443.8 601.9,442.0 602.1,443.9 602.2,441.3 602.3,443.2 602.4,443.9 602.5,443.1 602.7,443.9 602.8,443.0 602.9,444.4 603.0,443.4 603.1,442.7 603.3,442.4 603.4,443.3 603.5,441.5 603.6,444.4 603.7,443.1 603.9,443.4 604.0,442.8 604.1,443.1 604.2,441.3 604.3,442.8 604.5,443.9 604.6,441.2 604.7,442.8 604.8,443.0 604.9,441.8 605.1,443.5 605.2,443.1 605.3,441.9 605.4,444.2 605.5,443.3 605.7,441.8 605.8,441.2 605.9,442.9 606.0,442.9 606.1,441.6 606.3,444.4 606.4,443.6 606.5,443.7 606.6,444.4 606.7,444.4 606.9,443.3 607.0,441.8 607.1,442.1 607.2,441.4 607.3,444.4 607.5,443.0 607.6,441.3 607.7,443.8 607.8,444.3 607.9,442.4 608.1,442.8 608.2,442.1 608.3,442.8 608.4,441.4 608.5,442.0 608.7,442.5 608.8,443.3 608.9,442.0 609.0,443.6 609.1,441.7 609.3,441.5 609.4,441.8 609.5,444.3 609.6,442.3 609.7,442.4 609.9,441.8 610.0,444.4 610.1,443.5 610.2,442.9 610.3,441.2 610.5,443.5 610.6,441.8 610.7,442.7 610.8,441.2 610.9,442.5 611.1,444.4 611.2,443.1 611.3,442.5 611.4,441.4 611.5,442.1 611.7,443.1 611.8,444.3 611.9,442.8 612.0,443.0 612.1,441.3 612.3,441.8 612.4,444.4 612.5,444.4 612.6,443.3 612.7,442.5 612.9,443.9 613.0,443.4 613.1,441.5 613.2,442.0 613.3,444.4 613.5,442.4 613.6,442.6 613.7,443.0 613.8,442.2 613.9,442.1 614.1,441.2 614.2,442.6 614.3,443.0" fill="none" stroke="#0072BD" stroke-width="0.5" stroke-linejoin="round" />
<polyline points="614.2,442.6 614.3,443.0 614.4,442.9 614.5,440.0 614.7,444.0 614.8,442.2 614.9,443.2 615.0,443.3 615.1,442.9 615.3,439.6 615.4,444.4 615.5,443.2 615.6,439.2 615.7,448.3 615.9,442.6 616.0,443.4 616.1,440.7 616.2,428.2 616.3,450.6 616.5,427.7 616.6,451.7 616.7,442.7 616.8,451.3 616.9,447.0 617.1,442.3 617.2,439.3 617.3,443.5 617.4,450.0 617.5,440.8 617.7,445.1 617.8,446.3 617.9,455.9 618.0,441.1 618.1,444.7 618.3,446.5 618.4,441.9 618.5,455.1 618.6,425.3 618.7,441.6 618.9,449.2 619.0,438.5 619.1,439.9 619.2,445.9 619.3,443.2 619.5,436.3 619.6,456.6 619.7,455.1 619.8,444.2 619.9,440.3 620.1,441.9 620.2,441.6 620.3,456.8 620.4,444.6 620.5,440.9 620.7,441.4 620.8,433.5 620.9,441.2 621.0,437.9 621.1,452.9 621.3,440.4 621.4,447.4 621.5,447.6 621.6,432.6 621.7,434.1 621.9,442.8 622.0,440.3 622.1,443.7 622.2,446.1 622.3,448.7 622.5,446.8 622.6,443.5 622.7,440.8 622.8,442.4 622.9,435.4 623.1,440.9 623.2,443.4 623.3,440.7 623.4,443.7 623.5,446.5 623.7,443.8 623.8,442.0 623.9,442.8" fill="none" stroke="#0072BD" stroke-width="0.5" stroke-linejoin="round" stroke-opacity="0.65"/>
<polyline points="623.8,442.0 623.9,442.8 624.0,442.8 624.1,442.1 624.3,442.7 624.4,441.9 624.5,443.8 624.6,442.2 624.7,444.0 624.9,441.6 625.0,441.7 625.1,443.0 625.2,443.4 625.3,442.8 625.5,442.2 625.6,444.4 625.7,444.0 625.8,441.7 625.9,443.1 626.1,444.3 626.2,444.4 626.3,443.3 626.4,444.4 626.5,442.7 626.7,442.9 626.8,441.2 626.9,444.2 627.0,442.1 627.1,444.2 627.3,444.0 627.4,443.1 627.5,443.8 627.6,441.2 627.7,442.9 627.9,443.7 628.0,441.2 628.1,443.7 628.2,443.3 628.3,443.1 628.5,443.7 628.6,442.2 628.7,441.5 628.8,444.3 628.9,443.4 629.1,443.3 629.2,444.4 629.3,444.3 629.4,443.3 629.5,443.9 629.7,442.5 629.8,441.9 629.9,442.6 630.0,442.5 630.1,443.9 630.3,443.5 630.4,442.4 630.5,442.2 630.6,443.0 630.7,442.2 630.9,443.1 631.0,444.2 631.1,442.5 631.2,443.3 631.3,444.4 631.5,441.9 631.6,442.4 631.7,442.0 631.8,443.4 631.9,441.2 632.1,442.3 632.2,441.8 632.3,443.6 632.4,443.2 632.5,441.4 632.7,442.9 632.8,442.8 632.9,441.2 633.0,441.6 633.1,442.6 633.3,441.2 633.4,444.4 633.5,442.9 633.6,443.5 633.7,441.2 633.9,441.2 634.0,443.4 634.1,442.7 634.2,441.8 634.3,442.3 634.5,442.6 634.6,441.7 634.7,441.2 634.8,442.7 634.9,444.1 635.1,443.0 635.2,442.9 635.3,443.3 635.4,442.1 635.5,442.0 635.7,441.8 635.8,442.3 635.9,442.6 636.0,444.0 636.1,443.2 636.3,443.8 636.4,442.5 636.5,443.0 636.6,442.9 636.7,442.3 636.9,443.2 637.0,441.7 637.1,441.7 637.2,443.9 637.3,441.4 637.5,443.2 637.6,443.6 637.7,443.2 637.8,444.3 637.9,442.5 638.1,441.5 638.2,444.4 638.3,442.4 638.4,442.2 638.5,442.1 638.7,442.1 638.8,442.4 638.9,443.4 639.0,441.9 639.1,442.5 639.3,442.0 639.4,442.5 639.5,443.1 639.6,442.9 639.7,442.2 639.9,441.7 640.0,444.4 640.1,444.3 640.2,444.4 640.3,443.4 640.5,443.6 640.6,442.6 640.7,443.2 640.8,441.4 640.9,443.5 641.1,443.6 641.2,443.8 641.3,443.2 641.4,442.7 641.5,443.4 641.7,443.9 641.8,444.4 641.9,442.6 642.0,443.5 642.1,443.9 642.3,443.1 642.4,442.5 642.5,441.2 642.6,441.2 642.7,443.8 642.9,443.4 643.0,444.4 643.1,444.4 643.2,444.4 643.3,441.8 643.5,443.0 643.6,444.4 643.7,443.6 643.8,443.4 643.9,443.6 644.1,441.2 644.2,444.4 644.3,443.4 644.4,442.6 644.5,442.3 644.7,444.4 644.8,442.7 644.9,444.3 645.0,443.5 645.1,444.4" fill="none" stroke="#0072BD" stroke-width="0.5" stroke-linejoin="round" />
<path d="M402.6 447.2L402.7 440.2M404.5 447.0L404.7 440.0M416.4 439.0L416.5 445.9M418.2 437.0L418.3 444.9M419.4 439.1L419.5 446.3M420.7 438.1L420.9 446.5M421.1 448.0L421.2 440.3M421.8 437.5L421.9 447.9M421.9 447.7L422.1 440.8M422.9 438.2L423.0 444.7M423.6 436.9L423.7 448.2M424.0 445.6L424.1 441.9M425.3 437.9L425.4 446.2M428.3 436.6L428.4 446.7M428.8 439.7L428.9 445.3M429.9 436.9L430.0 448.5M430.5 448.5L430.6 439.5M430.8 439.6L430.9 445.0M432.6 445.6L432.7 440.1M433.8 438.9L433.9 445.6M434.4 448.2L434.5 440.6M434.5 438.9L434.7 446.2M435.6 446.2L435.7 440.9M436.2 445.9L436.3 441.0M436.5 448.0L436.6 439.9M436.6 445.9L436.7 440.4M439.3 445.7L439.5 441.6M439.9 448.0L440.1 441.0M440.2 440.0L440.3 444.1M441.9 446.5L442.0 441.2M442.3 436.7L442.5 445.3M443.9 448.8L444.0 438.6M444.3 447.0L444.4 441.0M444.9 440.0L445.0 444.5M445.3 445.3L445.5 441.4M446.2 440.4L446.3 444.8M447.0 448.8L447.1 440.2M448.9 447.0L449.1 440.6M454.2 439.8L454.3 445.2M454.3 439.5L454.5 444.5M454.6 446.7L454.7 441.1M459.3 440.4L459.4 445.0M471.7 447.9L471.9 438.1M473.1 446.4L473.2 441.2M473.7 446.3L473.8 439.6M474.9 448.9L475.0 439.9M475.1 446.9L475.2 440.8M476.9 437.1L477.0 448.2M480.3 438.8L480.4 446.8M481.9 446.8L482.1 439.3M483.9 447.9L484.0 439.7M485.5 447.7L485.7 439.4M486.7 445.2L486.9 441.2M488.3 437.0L488.4 445.8M488.9 446.5L489.0 441.5M492.3 438.2L492.4 446.1M492.4 440.1L492.5 444.1M493.0 447.1L493.1 440.4M493.5 436.4L493.6 446.9M496.7 436.4L496.8 445.6M497.3 436.8L497.4 446.4M497.5 436.6L497.7 448.0M497.9 448.1L498.0 440.2M498.5 445.4L498.6 441.3M498.6 448.8L498.7 438.8M499.7 436.7L499.8 448.5M501.6 438.1L501.7 446.3M503.3 437.8L503.4 447.3M505.1 438.0L505.2 446.3M505.3 447.5L505.5 438.6M510.0 440.4L510.1 444.6M511.3 448.0L511.5 440.7M521.4 448.1L521.5 439.9M521.8 448.2L521.9 438.5M527.9 438.2L528.0 444.5M528.4 448.5L528.5 440.2M529.0 437.0L529.1 447.9M530.1 437.0L530.2 447.5M530.2 447.6L530.3 440.5M530.8 439.6L530.9 443.8M533.4 445.4L533.5 440.7M534.4 448.9L534.5 437.4M534.6 439.2L534.7 444.5M535.3 446.8L535.5 439.1M536.5 438.6L536.7 446.7M539.3 448.7L539.4 440.5M543.3 447.7L543.4 439.9M544.7 436.8L544.8 446.9M546.7 438.0L546.9 445.3M547.6 439.6L547.7 444.0M548.2 438.0L548.3 446.1M548.8 448.9L548.9 439.9M549.6 446.1L549.7 439.7M550.6 447.1L550.7 439.9M551.5 439.6L551.7 443.9M551.9 437.9L552.0 445.9M552.1 436.6L552.3 446.4M552.6 440.4L552.7 444.2M553.7 439.0L553.8 446.6M554.9 438.7L555.0 445.1M557.3 447.4L557.4 438.3M558.0 448.5L558.1 437.4M558.7 447.7L558.9 440.5M560.9 439.7L561.0 444.2M562.0 445.9L562.1 441.5M562.9 445.8L563.1 441.8M563.5 446.1L563.7 440.4M575.3 438.5L575.4 446.1M576.0 437.5L576.1 445.0M578.7 437.5L578.8 447.0M579.3 438.4L579.4 444.5M579.4 446.1L579.5 441.0M581.1 446.8L581.2 440.9M581.4 447.1L581.5 441.3M581.5 436.5L581.7 445.4M582.3 437.0L582.4 445.6M582.9 448.8L583.0 437.0M583.5 438.2L583.6 445.0M584.3 440.1L584.4 444.3M585.4 439.2L585.5 445.5M585.7 445.9L585.9 441.0M586.1 447.4L586.2 439.6M587.7 437.6L587.8 446.1M589.6 437.2L589.7 446.0M592.1 446.0L592.2 441.1M593.5 439.2L593.7 445.4M594.5 437.8L594.6 445.8M595.0 445.9L595.1 440.7M596.1 446.1L596.2 440.8M597.5 436.7L597.6 445.1M598.5 449.1L598.6 437.3M598.6 440.0L598.7 444.8M606.7 439.7L606.9 445.4M607.8 438.7L607.9 446.8M612.7 440.2L612.9 445.2M613.6 440.3L613.7 444.4M613.9 440.1L614.1 444.4M624.4 446.5L624.5 439.9M627.4 439.0L627.5 445.9M627.6 440.4L627.7 443.7M628.9 445.8L629.1 441.3M631.3 439.7L631.5 445.8M632.3 436.7L632.4 447.9M632.8 437.2L632.9 444.8M633.6 447.8L633.7 439.8M636.9 445.9L637.0 441.2M637.2 447.0L637.3 441.5M638.1 438.8L638.2 446.4M638.5 448.1L638.7 440.4M638.8 445.7L638.9 440.4M638.9 436.5L639.0 445.3M639.0 447.4L639.1 440.0M640.3 439.5L640.5 444.1M640.6 446.3L640.7 440.1M641.5 445.5L641.7 440.6M642.1 445.7L642.3 441.0" fill="none" stroke="#0072BD" stroke-width="0.5" stroke-opacity="0.66"/>
<path d="M386.1 446.0L386.2 441.8M393.3 439.7L393.4 445.4M393.9 440.6L394.0 443.7" fill="none" stroke="#0072BD" stroke-width="0.5" stroke-opacity="0.66"/>
<path d="M404.60 376.9V507.4M459.30 371.9V499.2M511.80 417.1V466.1M564.90 401.3V483.6M614.10 389.3V494.5" fill="none" stroke="#0072BD" stroke-width="0.6" stroke-opacity="0.7"/>
<path d="M402.50 375.41H406.70L404.60 378.81Z" fill="#0072BD"/>
<path d="M457.20 370.39H461.40L459.30 373.79Z" fill="#0072BD"/>
<path d="M509.70 415.64H513.90L511.80 419.04Z" fill="#0072BD"/>
<path d="M562.80 399.78H567.00L564.90 403.18Z" fill="#0072BD"/>
<path d="M612.00 387.77H616.20L614.10 391.17Z" fill="#0072BD"/>
<polyline points="54.5,815.2 58.4,808.5 63.8,800.8 69.7,709.3 75.3,787.2 80.5,653.8 85.9,734.7 91.3,685.3 96.6,712.2 102.0,724.5 107.2,736.0 112.6,774.7 118.0,805.3 123.9,812.8 130.6,814.4 136.7,814.4 144.4,814.7 150.9,814.4 157.3,812.5 165.0,812.5 172.7,812.8 182.7,814.4 195.9,814.7 311.5,814.9" fill="none" stroke="#0072BD" stroke-width="0.5" stroke-linejoin="round" stroke-opacity="0.8"/>
<polyline points="382.5,810.7 383.0,809.5 383.5,808.0 384.1,806.5 384.6,802.8 385.4,792.8 386.3,779.7 386.9,787.2 387.4,789.7 387.9,778.0 388.5,770.0 389.2,784.4 389.9,743.0 390.6,706.4 391.1,785.3 391.7,809.9 392.1,790.8 392.6,734.5 393.2,700.5 393.8,647.4 394.4,673.5 394.9,693.6 395.4,740.8 396.0,760.8 396.5,783.4 397.0,809.9 397.5,800.1 398.1,760.8 398.6,742.8 399.2,716.1 400.1,763.9 400.9,788.4 401.5,778.4 402.0,771.0 402.7,781.8 403.5,767.9 404.2,801.2 404.7,788.2 405.3,773.9 405.8,765.1 406.3,758.2 406.8,774.9 407.4,792.6 407.9,785.2 408.4,760.8 408.9,747.9 409.3,717.5 410.0,759.1 410.6,777.3 411.5,770.2 412.3,740.8 413.1,758.1 413.9,777.3 414.6,771.8 415.4,766.8 415.9,772.0 416.4,777.3 417.1,770.5 417.7,734.5 418.4,762.5 419.0,803.6 419.5,764.9 419.9,730.3 420.5,769.3 421.2,779.7 422.0,763.4 422.9,720.6 423.7,751.5 424.4,775.2 425.3,769.1 426.1,758.2 427.0,754.4 427.8,742.1 428.4,760.7 428.9,777.3 429.5,793.1 430.0,807.5 430.8,795.7 431.5,755.8 432.3,771.1 433.0,779.7 433.7,767.2 434.3,757.1 435.1,794.2 435.8,805.7 436.7,802.3 437.5,788.4 438.5,782.5 439.5,776.5 440.1,786.8 440.8,801.5 441.5,792.9 442.3,778.6 443.2,795.9 444.0,799.1 445.1,798.1 446.1,792.6 446.7,803.9 447.2,808.8 448.1,802.2 448.9,797.5 449.9,793.8 450.9,786.5 451.8,796.4 452.6,807.8 453.3,802.1 454.1,797.5 455.2,795.3 456.3,790.5 457.3,799.3 458.2,808.0 459.0,804.6 459.8,800.2 460.5,797.0 461.2,792.6 462.3,800.0 463.4,802.8 464.4,800.2 465.5,797.5 466.4,793.3 467.4,788.4 468.5,798.2 469.6,802.8 470.9,802.0 472.2,800.2 473.0,804.3 473.8,805.4 474.7,803.8 475.6,795.7 476.8,802.9 477.9,806.7 479.0,805.0 480.0,802.8 481.3,800.0 482.7,795.7 484.7,809.4 485.3,806.6 486.2,807.1 487.0,810.2 488.4,807.3 489.6,809.1 491.1,808.5 492.6,807.2 493.4,809.2 494.1,808.5 495.4,810.8 496.4,809.8 497.5,809.0 498.7,811.0 500.1,807.1 501.7,810.4 503.3,807.9 504.1,811.2 505.7,810.8 506.6,810.9 508.1,809.9 509.0,810.8 509.9,811.3 510.9,809.2 512.5,809.4 513.9,811.4 514.6,811.4 516.1,807.8 517.6,806.9 519.1,810.3 520.7,811.4 522.3,810.9 523.5,811.2 524.2,810.4 524.9,809.6 526.0,811.6 526.7,810.2 528.3,811.4 529.9,811.0 531.6,811.5 532.6,810.5 534.1,812.8 535.7,812.8 536.9,812.6 538.3,812.0 539.1,812.6 540.6,812.0 541.9,810.6 543.1,812.3 544.4,812.6 545.5,812.4 546.9,812.6 548.0,812.8 549.0,812.5 550.4,812.5 551.9,813.0 552.6,810.3 553.5,812.4 555.1,812.8 555.8,812.6 557.1,812.9 558.0,813.0 559.0,812.6 560.6,812.9 561.3,811.0 562.0,812.9 563.4,812.1 564.4,812.2 565.7,812.3 567.3,812.6 568.4,812.4 569.6,812.0 571.1,812.3 572.3,812.1 573.7,812.6 575.4,812.6 576.4,812.8 578.0,812.0 578.9,812.1 580.1,810.3 581.5,812.6 582.4,812.9 583.7,812.6 585.3,812.9 586.3,812.0 587.7,812.5 588.5,812.4 589.9,812.6 591.0,813.0 592.4,813.0 593.4,812.4 594.9,812.0 596.0,812.2 597.0,812.1 597.7,812.8 599.3,812.6 600.8,812.0 602.1,812.5 603.1,812.7 603.8,812.3 605.0,812.0 606.4,812.5 607.4,812.6 608.7,812.2 609.8,812.3 611.3,812.4 612.6,812.2 613.6,812.5 614.9,812.2 615.6,812.7 616.9,812.5 618.5,812.5 619.9,812.8 621.2,812.8 622.1,812.5 623.0,812.8 623.8,812.3 624.7,812.2 626.3,812.4 627.9,812.5 628.7,812.2 629.6,812.2 630.5,812.9 632.0,812.8 632.6,812.4 634.2,812.0 634.9,812.6 635.6,812.2 637.0,812.7 638.0,812.3 639.5,812.6 640.5,812.3 641.8,812.4" fill="none" stroke="#0072BD" stroke-width="0.5" stroke-linejoin="round" stroke-opacity="0.75"/>
<path d="M53.60 258.50v-3.0M53.60 73.30v3.0M79.38 258.50v-3.0M79.38 73.30v3.0M105.16 258.50v-3.0M105.16 73.30v3.0M130.94 258.50v-3.0M130.94 73.30v3.0M156.72 258.50v-3.0M156.72 73.30v3.0M182.50 258.50v-3.0M182.50 73.30v3.0M208.28 258.50v-3.0M208.28 73.30v3.0M234.06 258.50v-3.0M234.06 73.30v3.0M259.84 258.50v-3.0M259.84 73.30v3.0M285.62 258.50v-3.0M285.62 73.30v3.0M311.40 258.50v-3.0M311.40 73.30v3.0M53.60 258.50h3.0M311.40 258.50h-3.0M53.60 221.46h3.0M311.40 221.46h-3.0M53.60 184.42h3.0M311.40 184.42h-3.0M53.60 147.38h3.0M311.40 147.38h-3.0M53.60 110.34h3.0M311.40 110.34h-3.0M53.60 73.30h3.0M311.40 73.30h-3.0" stroke="#9a9a9a" stroke-width="1.0" fill="none"/>
<path d="M53.5 73.0V259.0" stroke="#bcbcbc" stroke-width="1.1"/>
<path d="M53.0 73.5H312.0" stroke="#d0d0d0" stroke-width="1.1"/>
<path d="M311.5 73.0V259.0" stroke="#aeaeae" stroke-width="1.1"/>
<path d="M53.0 258.5H312.0" stroke="#aeaeae" stroke-width="1.1"/>
<g font-family='"Liberation Serif", "Times New Roman", serif' font-size="7.7" fill="#3a3a3a"><text x="53.60" y="269.10" text-anchor="middle">0</text><text x="79.38" y="269.10" text-anchor="middle">1</text><text x="105.16" y="269.10" text-anchor="middle">2</text><text x="130.94" y="269.10" text-anchor="middle">3</text><text x="156.72" y="269.10" text-anchor="middle">4</text><text x="182.50" y="269.10" text-anchor="middle">5</text><text x="208.28" y="269.10" text-anchor="middle">6</text><text x="234.06" y="269.10" text-anchor="middle">7</text><text x="259.84" y="269.10" text-anchor="middle">8</text><text x="285.62" y="269.10" text-anchor="middle">9</text><text x="311.40" y="269.10" text-anchor="middle">10</text><text x="51.00" y="261.50" text-anchor="end">-100</text><text x="51.00" y="224.46" text-anchor="end">-50</text><text x="51.00" y="187.42" text-anchor="end">0</text><text x="51.00" y="150.38" text-anchor="end">50</text><text x="51.00" y="113.34" text-anchor="end">100</text><text x="51.00" y="76.30" text-anchor="end">150</text></g>
<path d="M383.60 259.30v-3.0M383.60 73.50v3.0M409.29 259.30v-3.0M409.29 73.50v3.0M434.98 259.30v-3.0M434.98 73.50v3.0M460.67 259.30v-3.0M460.67 73.50v3.0M486.36 259.30v-3.0M486.36 73.50v3.0M512.05 259.30v-3.0M512.05 73.50v3.0M537.74 259.30v-3.0M537.74 73.50v3.0M563.43 259.30v-3.0M563.43 73.50v3.0M589.12 259.30v-3.0M589.12 73.50v3.0M614.81 259.30v-3.0M614.81 73.50v3.0M640.50 259.30v-3.0M640.50 73.50v3.0M383.60 259.30h3.0M640.50 259.30h-3.0M383.60 232.76h3.0M640.50 232.76h-3.0M383.60 206.21h3.0M640.50 206.21h-3.0M383.60 179.67h3.0M640.50 179.67h-3.0M383.60 153.13h3.0M640.50 153.13h-3.0M383.60 126.59h3.0M640.50 126.59h-3.0M383.60 100.04h3.0M640.50 100.04h-3.0M383.60 73.50h3.0M640.50 73.50h-3.0" stroke="#a4a4a4" stroke-width="1.0" fill="none"/>
<path d="M383.5 73.0V260.0" stroke="#d0d0d0" stroke-width="1.1"/>
<path d="M383.0 73.5H641.0" stroke="#d0d0d0" stroke-width="1.1"/>
<path d="M640.5 73.0V260.0" stroke="#aaaaaa" stroke-width="1.1"/>
<path d="M383.0 259.5H641.0" stroke="#aaaaaa" stroke-width="1.1"/>
<g font-family='"Liberation Serif", "Times New Roman", serif' font-size="7.7" fill="#3a3a3a"><text x="383.60" y="269.90" text-anchor="middle">0</text><text x="409.29" y="269.90" text-anchor="middle">1</text><text x="434.98" y="269.90" text-anchor="middle">2</text><text x="460.67" y="269.90" text-anchor="middle">3</text><text x="486.36" y="269.90" text-anchor="middle">4</text><text x="512.05" y="269.90" text-anchor="middle">5</text><text x="537.74" y="269.90" text-anchor="middle">6</text><text x="563.43" y="269.90" text-anchor="middle">7</text><text x="589.12" y="269.90" text-anchor="middle">8</text><text x="614.81" y="269.90" text-anchor="middle">9</text><text x="640.50" y="269.90" text-anchor="middle">10</text><text x="381.00" y="262.30" text-anchor="end">-60</text><text x="381.00" y="235.76" text-anchor="end">-40</text><text x="381.00" y="209.21" text-anchor="end">-20</text><text x="381.00" y="182.67" text-anchor="end">0</text><text x="381.00" y="156.13" text-anchor="end">20</text><text x="381.00" y="129.59" text-anchor="end">40</text><text x="381.00" y="103.04" text-anchor="end">60</text><text x="381.00" y="76.50" text-anchor="end">80</text></g>
<path d="M55.70 534.40v-3.0M55.70 347.60v3.0M81.54 534.40v-3.0M81.54 347.60v3.0M107.38 534.40v-3.0M107.38 347.60v3.0M133.22 534.40v-3.0M133.22 347.60v3.0M159.06 534.40v-3.0M159.06 347.60v3.0M184.90 534.40v-3.0M184.90 347.60v3.0M210.74 534.40v-3.0M210.74 347.60v3.0M236.58 534.40v-3.0M236.58 347.60v3.0M262.42 534.40v-3.0M262.42 347.60v3.0M288.26 534.40v-3.0M288.26 347.60v3.0M314.10 534.40v-3.0M314.10 347.60v3.0M55.70 534.40h3.0M314.10 534.40h-3.0M55.70 503.27h3.0M314.10 503.27h-3.0M55.70 472.13h3.0M314.10 472.13h-3.0M55.70 441.00h3.0M314.10 441.00h-3.0M55.70 409.87h3.0M314.10 409.87h-3.0M55.70 378.73h3.0M314.10 378.73h-3.0M55.70 347.60h3.0M314.10 347.60h-3.0" stroke="#a4a4a4" stroke-width="1.0" fill="none"/>
<path d="M55.5 347.0V535.0" stroke="#d0d0d0" stroke-width="1.1"/>
<path d="M55.0 347.5H315.0" stroke="#bcbcbc" stroke-width="1.1"/>
<path d="M314.5 347.0V535.0" stroke="#aeaeae" stroke-width="1.1"/>
<path d="M55.0 534.5H315.0" stroke="#aeaeae" stroke-width="1.1"/>
<g font-family='"Liberation Serif", "Times New Roman", serif' font-size="7.7" fill="#3a3a3a"><text x="55.70" y="545.00" text-anchor="middle">0</text><text x="81.54" y="545.00" text-anchor="middle">1</text><text x="107.38" y="545.00" text-anchor="middle">2</text><text x="133.22" y="545.00" text-anchor="middle">3</text><text x="159.06" y="545.00" text-anchor="middle">4</text><text x="184.90" y="545.00" text-anchor="middle">5</text><text x="210.74" y="545.00" text-anchor="middle">6</text><text x="236.58" y="545.00" text-anchor="middle">7</text><text x="262.42" y="545.00" text-anchor="middle">8</text><text x="288.26" y="545.00" text-anchor="middle">9</text><text x="314.10" y="545.00" text-anchor="middle">10</text><text x="53.10" y="537.40" text-anchor="end">-150</text><text x="53.10" y="506.27" text-anchor="end">-100</text><text x="53.10" y="475.13" text-anchor="end">-50</text><text x="53.10" y="444.00" text-anchor="end">0</text><text x="53.10" y="412.87" text-anchor="end">50</text><text x="53.10" y="381.73" text-anchor="end">100</text><text x="53.10" y="350.60" text-anchor="end">150</text></g>
<path d="M384.80 536.10v-3.0M384.80 349.50v3.0M410.87 536.10v-3.0M410.87 349.50v3.0M436.94 536.10v-3.0M436.94 349.50v3.0M463.01 536.10v-3.0M463.01 349.50v3.0M489.08 536.10v-3.0M489.08 349.50v3.0M515.15 536.10v-3.0M515.15 349.50v3.0M541.22 536.10v-3.0M541.22 349.50v3.0M567.29 536.10v-3.0M567.29 349.50v3.0M593.36 536.10v-3.0M593.36 349.50v3.0M619.43 536.10v-3.0M619.43 349.50v3.0M645.50 536.10v-3.0M645.50 349.50v3.0M384.80 536.10h3.0M645.50 536.10h-3.0M384.80 512.77h3.0M645.50 512.77h-3.0M384.80 489.45h3.0M645.50 489.45h-3.0M384.80 466.12h3.0M645.50 466.12h-3.0M384.80 442.80h3.0M645.50 442.80h-3.0M384.80 419.48h3.0M645.50 419.48h-3.0M384.80 396.15h3.0M645.50 396.15h-3.0M384.80 372.82h3.0M645.50 372.82h-3.0M384.80 349.50h3.0M645.50 349.50h-3.0" stroke="#a4a4a4" stroke-width="1.0" fill="none"/>
<path d="M384.5 349.0V537.0" stroke="#d0d0d0" stroke-width="1.1"/>
<path d="M384.0 349.5H646.0" stroke="#d0d0d0" stroke-width="1.1"/>
<path d="M645.5 349.0V537.0" stroke="#aaaaaa" stroke-width="1.1"/>
<path d="M384.0 536.5H646.0" stroke="#aaaaaa" stroke-width="1.1"/>
<g font-family='"Liberation Serif", "Times New Roman", serif' font-size="7.7" fill="#3a3a3a"><text x="384.80" y="546.70" text-anchor="middle">0</text><text x="410.87" y="546.70" text-anchor="middle">1</text><text x="436.94" y="546.70" text-anchor="middle">2</text><text x="463.01" y="546.70" text-anchor="middle">3</text><text x="489.08" y="546.70" text-anchor="middle">4</text><text x="515.15" y="546.70" text-anchor="middle">5</text><text x="541.22" y="546.70" text-anchor="middle">6</text><text x="567.29" y="546.70" text-anchor="middle">7</text><text x="593.36" y="546.70" text-anchor="middle">8</text><text x="619.43" y="546.70" text-anchor="middle">9</text><text x="645.50" y="546.70" text-anchor="middle">10</text><text x="382.20" y="539.10" text-anchor="end">-80</text><text x="382.20" y="515.77" text-anchor="end">-60</text><text x="382.20" y="492.45" text-anchor="end">-40</text><text x="382.20" y="469.12" text-anchor="end">-20</text><text x="382.20" y="445.80" text-anchor="end">0</text><text x="382.20" y="422.48" text-anchor="end">20</text><text x="382.20" y="399.15" text-anchor="end">40</text><text x="382.20" y="375.82" text-anchor="end">60</text><text x="382.20" y="352.50" text-anchor="end">80</text></g>
<path d="M54.50 815.20v-3.0M54.50 628.50v3.0M80.20 815.20v-3.0M80.20 628.50v3.0M105.90 815.20v-3.0M105.90 628.50v3.0M131.60 815.20v-3.0M131.60 628.50v3.0M157.30 815.20v-3.0M157.30 628.50v3.0M183.00 815.20v-3.0M183.00 628.50v3.0M208.70 815.20v-3.0M208.70 628.50v3.0M234.40 815.20v-3.0M234.40 628.50v3.0M260.10 815.20v-3.0M260.10 628.50v3.0M285.80 815.20v-3.0M285.80 628.50v3.0M311.50 815.20v-3.0M311.50 628.50v3.0M54.50 815.20h3.0M311.50 815.20h-3.0M54.50 788.53h3.0M311.50 788.53h-3.0M54.50 761.86h3.0M311.50 761.86h-3.0M54.50 735.19h3.0M311.50 735.19h-3.0M54.50 708.51h3.0M311.50 708.51h-3.0M54.50 681.84h3.0M311.50 681.84h-3.0M54.50 655.17h3.0M311.50 655.17h-3.0M54.50 628.50h3.0M311.50 628.50h-3.0" stroke="#9a9a9a" stroke-width="1.0" fill="none"/>
<path d="M54.5 628.0V816.0" stroke="#b6b6b6" stroke-width="1.1"/>
<path d="M54.0 628.5H312.0" stroke="#b6b6b6" stroke-width="1.1"/>
<path d="M311.5 628.0V816.0" stroke="#b0b0b0" stroke-width="1.1"/>
<path d="M54.0 815.5H312.0" stroke="#b0b0b0" stroke-width="1.1"/>
<g font-family='"Liberation Serif", "Times New Roman", serif' font-size="7.7" fill="#3a3a3a"><text x="54.50" y="825.80" text-anchor="middle">0</text><text x="80.20" y="825.80" text-anchor="middle">10</text><text x="105.90" y="825.80" text-anchor="middle">20</text><text x="131.60" y="825.80" text-anchor="middle">30</text><text x="157.30" y="825.80" text-anchor="middle">40</text><text x="183.00" y="825.80" text-anchor="middle">50</text><text x="208.70" y="825.80" text-anchor="middle">60</text><text x="234.40" y="825.80" text-anchor="middle">70</text><text x="260.10" y="825.80" text-anchor="middle">80</text><text x="285.80" y="825.80" text-anchor="middle">90</text><text x="311.50" y="825.80" text-anchor="middle">100</text><text x="51.90" y="818.20" text-anchor="end">0</text><text x="51.90" y="791.53" text-anchor="end">1</text><text x="51.90" y="764.86" text-anchor="end">2</text><text x="51.90" y="738.19" text-anchor="end">3</text><text x="51.90" y="711.51" text-anchor="end">4</text><text x="51.90" y="684.84" text-anchor="end">5</text><text x="51.90" y="658.17" text-anchor="end">6</text><text x="51.90" y="631.50" text-anchor="end">7</text></g>
<path d="M382.50 813.30v-3.0M382.50 629.50v3.0M408.43 813.30v-3.0M408.43 629.50v3.0M434.36 813.30v-3.0M434.36 629.50v3.0M460.29 813.30v-3.0M460.29 629.50v3.0M486.22 813.30v-3.0M486.22 629.50v3.0M512.15 813.30v-3.0M512.15 629.50v3.0M538.08 813.30v-3.0M538.08 629.50v3.0M564.01 813.30v-3.0M564.01 629.50v3.0M589.94 813.30v-3.0M589.94 629.50v3.0M615.87 813.30v-3.0M615.87 629.50v3.0M641.80 813.30v-3.0M641.80 629.50v3.0M382.50 813.30h3.0M641.80 813.30h-3.0M382.50 787.04h3.0M641.80 787.04h-3.0M382.50 760.79h3.0M641.80 760.79h-3.0M382.50 734.53h3.0M641.80 734.53h-3.0M382.50 708.27h3.0M641.80 708.27h-3.0M382.50 682.01h3.0M641.80 682.01h-3.0M382.50 655.76h3.0M641.80 655.76h-3.0M382.50 629.50h3.0M641.80 629.50h-3.0" stroke="#9a9a9a" stroke-width="1.0" fill="none"/>
<path d="M382.5 629.0V814.0" stroke="#b0b0b0" stroke-width="1.1"/>
<path d="M382.0 629.5H642.0" stroke="#b6b6b6" stroke-width="1.1"/>
<path d="M641.5 629.0V814.0" stroke="#b0b0b0" stroke-width="1.1"/>
<path d="M382.0 813.5H642.0" stroke="#b0b0b0" stroke-width="1.1"/>
<g font-family='"Liberation Serif", "Times New Roman", serif' font-size="7.7" fill="#3a3a3a"><text x="382.50" y="823.90" text-anchor="middle">0</text><text x="408.43" y="823.90" text-anchor="middle">50</text><text x="434.36" y="823.90" text-anchor="middle">100</text><text x="460.29" y="823.90" text-anchor="middle">150</text><text x="486.22" y="823.90" text-anchor="middle">200</text><text x="512.15" y="823.90" text-anchor="middle">250</text><text x="538.08" y="823.90" text-anchor="middle">300</text><text x="564.01" y="823.90" text-anchor="middle">350</text><text x="589.94" y="823.90" text-anchor="middle">400</text><text x="615.87" y="823.90" text-anchor="middle">450</text><text x="641.80" y="823.90" text-anchor="middle">500</text><text x="379.90" y="816.30" text-anchor="end">0</text><text x="379.90" y="790.04" text-anchor="end">100</text><text x="379.90" y="763.79" text-anchor="end">200</text><text x="379.90" y="737.53" text-anchor="end">300</text><text x="379.90" y="711.27" text-anchor="end">400</text><text x="379.90" y="685.01" text-anchor="end">500</text><text x="379.90" y="658.76" text-anchor="end">600</text><text x="379.90" y="632.50" text-anchor="end">700</text></g>
<g font-family='"Liberation Serif", "Times New Roman", serif' fill="#111" stroke="#111" stroke-width="0.3"><text x="85" y="18.1" font-size="24.3" text-anchor="start" >Mechanomyography</text><text x="416.6" y="19.4" font-size="24.3" text-anchor="start" >Electromyography</text><text x="0.2" y="53.6" font-size="19.5" text-anchor="start" >(a)</text><text x="334.0" y="51.8" font-size="19.5" text-anchor="start" >(b)</text><text x="3.0" y="330.3" font-size="19.5" text-anchor="start" >(c)</text><text x="338.6" y="329.5" font-size="19.5" text-anchor="start" >(d)</text><text x="11.2" y="608.0" font-size="19.5" text-anchor="start" >(e)</text><text x="340.2" y="608.0" font-size="19.5" text-anchor="start" >(f)</text><text transform="translate(22.6,86.3) rotate(-90)" font-size="16.3" text-anchor="middle">(µm)</text><text transform="translate(350.3,84.9) rotate(-90)" font-size="16.3" text-anchor="middle">(mV)</text><text transform="translate(22.6,365.8) rotate(-90)" font-size="16.3" text-anchor="middle">(µm)</text><text transform="translate(354.7,366.4) rotate(-90)" font-size="16.3" text-anchor="middle">(mV)</text><text x="319.5" y="291.8" font-size="16.2" text-anchor="end" >(Second)</text><text x="652.5" y="292.2" font-size="16.2" text-anchor="end" >(Second)</text><text x="324" y="584" font-size="16.2" text-anchor="end" >(Second)</text><text x="656.2" y="583.8" font-size="16.2" text-anchor="end" >(Second)</text><text x="316.8" y="854.4" font-size="16.2" text-anchor="end" >(Hz)</text><text x="650.7" y="852.8" font-size="16.2" text-anchor="end" >(Hz)</text></g>
<g font-family='"Liberation Serif", "Times New Roman", serif' fill="#3a3a3a"><text x="54.6" y="626.9" font-size="8.5">×10</text><text x="68.6" y="623.6" font-size="6.3">4</text></g>
</svg>
</body></html>
